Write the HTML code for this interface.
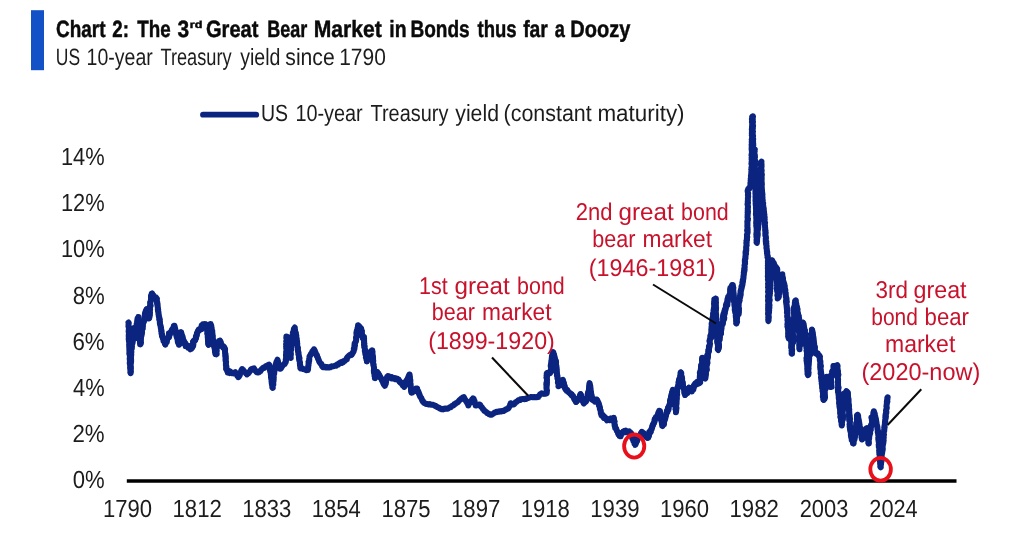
<!DOCTYPE html>
<html lang="en"><head><meta charset="utf-8"><title>Chart 2: The 3rd Great Bear Market in Bonds thus far a Doozy</title>
<style>
html,body{margin:0;padding:0;background:#fff;}
body{width:1024px;height:533px;overflow:hidden;}
svg{display:block;font-family:"Liberation Sans",sans-serif;}
</style></head><body>
<svg width="1024" height="533" viewBox="0 0 1024 533" text-rendering="geometricPrecision">
<rect width="1024" height="533" fill="#ffffff"/>
<rect x="31" y="10.2" width="13" height="60" fill="#1352c6"/>
<line x1="203" y1="114.7" x2="256.2" y2="114.7" stroke="#0b2480" stroke-width="5.8" stroke-linecap="round"/>
<line x1="126.8" y1="480.9" x2="956.5" y2="480.9" stroke="#000" stroke-width="3.5"/>
<g fill="none" stroke="#0b2480" stroke-width="6" stroke-linejoin="round" stroke-linecap="round">
<polyline stroke-width="5" points="129.5,350.0 129.5,350.2 129.5,351.5 129.6,351.9 129.4,353.3 129.9,352.9 129.8,354.0 129.8,354.2 129.5,356.2 129.7,356.4 129.9,358.2 130.1,358.3 129.7,359.5 129.6,358.8 130.0,359.7 129.3,357.9 129.4,359.6 129.5,359.1 129.6,360.9 129.7,362.1 130.0,365.3 130.6,366.2 130.1,366.8 130.1,365.8 130.2,366.7 130.3,366.5 130.1,368.1 130.2,368.1 130.3,370.5 130.5,371.2 130.6,372.9 130.2,372.6 130.5,373.4 130.8,372.1 130.8,372.1 130.5,371.1 130.5,371.5 130.9,369.5 130.9,369.5 130.8,367.4 130.5,367.9 130.6,366.6 131.1,366.6 130.6,364.7 130.9,363.8 130.3,361.1 130.5,362.8 131.0,361.2 131.4,362.9 131.4,361.7 131.5,362.2 131.6,360.9 131.5,360.8 131.0,358.1 131.2,358.0 131.1,356.6 131.2,357.0 131.6,355.6 131.4,355.4 131.3,353.9 131.2,353.7 131.7,351.8 131.5,351.1 131.5,349.7 131.6,349.9 131.6,349.1 131.9,349.2 131.5,348.0 132.1,347.9 131.8,346.3 131.7,346.0 131.7,344.1 131.7,343.8 131.9,341.5 131.7,341.8 131.7,339.1 132.1,340.9 132.2,341.0 132.7,342.5 132.5,340.1 132.5,340.0 132.3,336.8 132.6,338.2 132.8,336.4 133.1,337.5 133.0,335.7 133.3,336.3 133.3,334.5 133.2,334.5 133.0,332.7 133.3,332.8 133.5,331.4 133.1,331.2 133.2,330.0 133.6,329.4 133.3,327.9 133.4,328.7 133.8,329.4 133.6,331.4 134.0,331.8 134.2,333.1 133.9,332.2 134.1,333.3 134.3,333.6 135.0,336.2 134.9,336.8 134.8,337.9 134.7,337.2 135.2,338.2 135.3,338.0 135.3,337.3 134.9,334.7 135.2,334.9 135.0,332.5 135.6,333.2 135.5,331.6 135.7,331.9 136.0,330.4 136.2,331.6 136.5,330.9 136.3,330.8 136.7,329.7 137.0,329.0 136.7,327.1 137.0,327.6 137.1,326.2 137.1,326.6 137.0,324.3 137.4,324.4 137.3,322.0 137.2,322.6 137.8,321.5 137.7,321.7 137.9,320.1 137.8,320.0 138.0,318.3 138.0,318.6 137.9,317.3 138.1,316.9 138.5,317.3 138.2,318.6 138.4,319.0 138.7,320.6 138.6,320.7 138.6,321.9 138.8,322.3 138.8,324.5 139.3,325.2 139.3,326.7 139.4,325.7 139.1,327.3 139.3,326.8 139.4,329.3 139.7,329.4 139.5,331.2 139.2,330.3 139.5,332.0 139.5,331.8 139.3,333.4 139.3,333.3 139.6,334.2 139.5,333.8 139.7,334.7 139.7,334.8 139.3,335.6 139.3,335.2 139.6,337.6 139.8,337.8 140.3,340.9 140.5,340.9 140.7,343.2 140.6,342.7 140.6,344.3 140.6,343.5 140.5,344.4 140.1,344.3 140.2,343.8 140.3,342.5 140.7,342.6 140.7,341.3 140.8,341.8 141.0,339.6 140.6,339.4 140.8,336.5 140.9,337.9 141.3,337.3 141.3,338.4 141.7,336.5 141.5,336.0 141.4,334.2 141.5,333.7 141.3,332.2 141.4,331.8 141.5,330.6 141.8,330.2 142.1,329.4 142.0,329.1 142.0,328.3 142.5,329.4 142.9,328.6 143.2,329.0 143.1,328.0 143.3,326.4 143.2,323.2 143.2,322.0 143.1,321.8 143.8,322.9 143.8,322.2 144.0,321.5 144.1,320.0 143.9,319.2 144.0,317.9 144.0,317.4 144.6,315.3 144.8,315.5 144.9,313.5 145.1,314.2 145.1,313.4 145.8,314.4 145.7,313.3 145.7,313.6 145.9,312.0 146.4,311.7 146.3,309.9 146.6,310.5 146.6,308.8 146.8,311.0 147.5,311.8 147.6,313.9 148.1,313.7 148.2,314.1 148.0,312.9 148.5,315.0 148.8,315.9 149.3,318.2 149.1,317.9 149.4,317.5 149.6,315.9 149.7,316.3 149.5,315.4 149.6,316.2 150.2,315.2 150.1,315.2 149.9,313.8 150.0,313.3 149.8,310.9 150.0,310.2 150.0,309.2 150.2,310.9 150.5,309.5 150.4,309.1 150.2,306.2 149.9,305.1 150.3,303.8 149.9,303.7 150.1,302.0 150.2,302.5 150.3,301.7 150.7,301.8 150.9,299.7 150.6,299.3 150.5,296.7 150.9,297.0 151.1,295.5 151.1,296.1 151.4,295.0 151.4,295.4 151.4,294.2 152.0,294.4 152.1,293.4 152.2,294.7 152.8,294.2 152.6,294.7 152.6,294.0 153.4,295.7 153.7,295.5 154.1,297.6 154.7,296.8 156.1,299.6 156.9,298.8 156.9,299.8 157.1,299.4 156.6,300.6 156.8,301.3 157.4,303.6 157.6,304.4 157.4,306.6 157.6,305.9 157.7,307.8 157.8,306.4 157.4,307.0 157.5,306.4 157.5,308.1 157.9,307.8 158.2,309.6 157.9,309.9 158.0,311.0 158.3,311.1 158.3,313.0 158.4,312.8 158.9,315.0 158.7,314.6 159.1,315.8 158.8,315.6 159.1,317.1 158.9,317.1 159.5,318.5 159.7,318.3 159.8,319.6 159.4,320.1 159.7,321.3 159.7,321.9 159.9,323.7 160.1,323.3 160.2,324.5 160.0,323.9 160.5,325.6 160.7,324.7 160.4,326.4 160.9,326.5 161.0,329.4 161.2,329.3 160.9,329.8 161.2,328.7 161.3,330.1 161.4,329.8 161.6,331.8 161.5,331.9 161.6,333.8 162.0,334.4 162.0,335.8 162.2,336.2 162.7,337.3 163.0,337.0 162.8,338.5 163.1,337.9 163.6,340.5 163.5,339.1 163.5,339.8 163.5,338.7 164.1,341.4 164.1,341.5 164.5,343.7 165.1,343.8 165.2,345.1 165.7,344.3 165.5,343.8 165.6,341.2 166.1,340.7 166.1,339.5 166.6,340.7 167.1,339.8 167.2,340.1 167.6,338.9 168.0,338.4 168.5,336.8 168.7,335.9 168.5,333.1 168.8,334.5 169.6,333.9 170.1,334.8 170.2,332.9 170.5,333.2 170.8,331.7 171.4,331.8 171.5,330.9 172.3,331.1 172.2,328.9 172.8,328.8 173.1,326.8 173.2,327.6 173.6,326.4 173.9,326.8 174.1,325.7 174.4,327.1 174.4,327.4 175.0,328.3 175.0,327.0 174.5,327.6 174.7,326.6 174.7,328.3 174.9,328.0 175.6,331.3 175.7,331.8 176.0,334.4 176.4,334.6 176.4,336.2 176.7,336.1 176.8,336.5 176.5,336.5 176.6,336.8 177.3,337.0 177.4,338.5 177.2,338.4 177.9,341.2 178.1,340.5 178.3,342.3 178.3,341.8 178.2,343.1 178.5,342.7 178.8,344.1 179.0,344.6 179.5,344.4 179.5,342.7 179.2,342.9 179.3,341.2 179.5,341.3 179.5,339.3 179.6,340.2 179.9,338.4 180.1,339.5 180.5,337.7 180.2,337.7 180.0,335.4 180.5,335.4 180.2,333.6 180.5,334.3 180.7,332.9 180.9,333.1 181.0,332.0 181.4,333.5 181.3,333.1 181.4,333.6 181.5,331.9 181.7,334.3 181.9,335.1 182.5,337.5 182.4,337.7 182.8,339.2 183.1,339.1 183.2,340.4 183.5,339.8 183.7,340.9 183.8,340.9 184.1,341.8 184.1,340.8 184.5,343.7 185.3,344.3 185.3,346.5 185.6,346.0 186.1,346.5 186.3,345.3 187.2,346.1 188.1,345.5 189.0,347.2 189.9,346.1 190.1,347.4 191.4,346.7 191.7,347.9 192.2,347.1 192.8,347.6 192.6,345.2 192.8,344.8 192.5,341.7 192.8,342.6 193.1,340.7 193.7,341.9 193.7,340.6 194.2,340.7 194.5,339.7 195.1,339.7 195.2,339.0 195.6,340.4 195.6,337.7 196.1,337.4 196.3,334.9 196.8,335.8 196.6,334.7 197.2,335.1 197.4,333.1 197.6,333.0 198.1,330.1 198.5,330.5 198.6,329.5 198.9,330.0 199.6,329.0 200.2,329.1 200.5,328.6 201.0,329.2 201.7,328.3 202.4,329.3 202.6,327.2 203.2,326.7 203.7,325.2 204.2,325.0 204.5,323.8 205.2,324.7 206.1,323.9 207.0,325.6 207.2,325.7 207.0,327.2 207.0,327.4 207.3,329.1 207.4,328.6 207.1,330.2 207.1,329.4 207.5,331.6 207.7,332.2 207.6,335.1 208.1,334.8 208.0,337.0 208.0,336.3 207.9,337.3 207.5,335.8 207.7,336.3 207.5,335.7 207.9,338.1 208.1,337.7 208.2,340.2 207.9,340.7 208.5,342.9 208.3,342.6 208.2,343.8 208.4,343.7 208.1,344.9 208.3,345.1 208.3,345.0 208.4,343.7 208.6,343.0 208.2,341.3 208.3,341.1 208.3,339.3 208.4,339.2 208.7,337.3 208.5,337.6 208.5,336.4 209.1,337.3 209.4,336.6 209.3,337.7 209.4,335.3 209.1,334.7 208.7,332.3 209.3,332.8 209.2,330.8 208.9,331.5 209.4,330.2 209.3,330.4 209.3,328.9 209.2,328.8 209.4,327.7 209.7,327.6 210.1,325.6 210.4,326.0 210.7,324.6 210.9,324.8 211.0,325.6 211.0,327.2 211.1,326.6 211.2,327.6 211.4,326.1 211.1,327.2 211.2,326.7 211.4,328.1 211.4,329.0 212.1,332.8 212.6,334.2 212.5,335.9 212.6,335.4 212.4,336.9 212.9,336.7 212.5,337.9 213.0,338.0 212.8,338.9 212.8,338.0 212.9,338.5 212.8,339.2 212.8,340.4 213.2,341.4 213.7,342.6 213.8,343.1 214.0,344.7 213.9,343.9 213.6,344.5 213.9,343.1 213.8,345.6 214.0,346.2 214.6,348.9 214.8,348.7 214.6,350.1 215.0,350.4 215.2,351.4 215.3,350.9 215.4,352.3 215.4,351.9 215.3,352.9 215.7,353.1 215.5,354.2 215.9,352.6 215.9,352.0 216.3,350.7 216.1,351.2 216.1,348.9 216.5,349.0 216.9,347.3 216.5,347.5 216.7,345.8 217.4,346.2 217.2,345.3 217.5,344.9 217.8,343.9 218.1,345.0 218.2,342.2 218.3,342.9 218.6,340.8 219.3,341.4 219.6,340.5 220.0,342.2 220.3,341.5 220.6,341.6 220.2,340.0 221.4,343.4 221.8,344.3 221.9,345.7 222.6,346.4 222.9,348.0 223.3,347.1 223.8,349.1 224.4,348.7 225.0,350.0 224.7,349.4 224.8,350.7 225.2,351.2 225.1,352.9 225.2,353.3 225.5,354.9 225.7,354.2 225.3,355.6 225.1,354.5 225.4,355.5 225.2,354.6 224.9,355.3 225.1,356.5 225.6,359.0 225.4,359.5 225.6,360.2 225.6,360.1 225.3,360.7 225.6,360.4 225.8,362.0 225.8,361.7 225.9,364.8 225.7,364.4 226.3,366.7 226.1,366.1 225.9,367.9 226.3,367.6 225.9,368.6 226.6,368.7 226.7,370.0 227.6,370.7 227.5,372.9 227.9,372.4 229.5,373.6 229.6,371.1 230.2,371.8 231.2,371.9 231.7,372.5 232.0,373.0"/>
<polyline stroke-width="5" points="700.0,380.6 700.3,380.1 700.5,380.9 700.6,379.6 700.6,380.5 700.8,378.5 701.1,379.3 701.0,377.8 701.1,378.1 701.3,376.5 701.3,376.5 701.2,374.0 701.1,373.8 701.2,372.2 701.2,372.1 701.1,370.5 701.4,369.9 701.1,367.7 701.1,366.3 701.0,364.5 701.3,366.0 701.2,364.4 701.7,366.6 702.0,365.4 702.5,367.4 702.3,364.8 701.9,364.1 702.1,361.7 702.3,362.2 701.9,360.6 702.1,360.3 702.0,358.4 702.1,358.8 701.9,357.7 702.2,359.7 702.5,359.9 702.9,362.0 702.6,361.5 702.6,362.6 702.9,362.0 702.6,364.8 702.9,364.9 703.2,367.2 703.7,367.0 703.5,368.4 703.7,368.7 703.5,369.4 703.6,367.7 703.7,368.6 703.5,367.7 703.4,370.1 704.0,370.0 703.9,372.6 704.5,372.1 704.4,374.1 704.7,374.8 705.0,377.9 705.5,378.0 705.1,378.8 705.4,377.7 705.4,377.9 705.5,375.6 705.4,374.5 705.3,371.7 705.4,373.6 706.1,373.2 706.4,374.7 706.4,371.0 705.7,370.2 705.5,366.4 705.9,368.7 706.3,367.6 706.6,369.2 706.3,366.3 706.4,366.0 706.5,364.5 706.8,364.4 706.7,362.7 706.8,361.9 706.8,361.5 707.5,363.4 707.7,363.4 707.7,362.3 707.3,358.7 707.1,357.9 707.4,355.9 707.2,356.9 707.1,354.7 708.0,356.6 708.3,356.4 708.4,358.0 708.5,355.6 708.1,355.5 708.3,353.7 708.2,352.6 708.4,351.0 708.1,350.2 708.8,349.5 709.0,350.8 709.5,350.4 709.6,350.9 709.0,347.4 709.0,347.6 709.6,345.4 709.3,346.5 709.9,345.1 709.6,344.3 709.3,341.5 709.2,341.0 709.7,341.1 709.7,341.6 710.1,340.5 709.9,340.4 710.2,339.1 710.4,339.2 710.5,338.3 710.9,338.6 711.1,337.8 711.4,338.4 711.4,336.6 711.4,336.8 711.4,333.6 710.9,332.7 710.8,329.2 710.8,330.5 711.3,328.7 711.4,328.9 711.1,326.7 711.2,327.3 711.4,325.0 711.7,325.0 711.8,324.1 711.6,324.4 712.1,322.9 711.9,323.1 712.4,321.8 712.3,322.1 712.4,320.8 712.5,320.7 712.6,319.4 712.6,320.4 713.1,318.6 712.9,318.4 712.7,314.5 712.5,314.0 712.8,313.6 713.0,315.2 713.4,314.6 713.6,314.9 713.3,312.2 713.8,312.0 713.7,310.5 713.6,310.4 713.8,309.5 714.0,309.7 714.1,308.9 714.4,309.6 714.5,307.9 714.6,307.2 714.8,305.0 714.8,305.3 714.7,302.6 714.9,302.6 714.9,301.4 715.0,302.5 714.9,300.9 715.0,301.2 715.1,300.1 715.7,300.0 715.4,298.3 715.4,299.0 715.6,298.6 715.4,300.6 716.0,301.5 715.9,304.7 715.5,303.3 715.7,303.2 715.0,301.2 715.8,304.2 715.7,305.4 715.8,308.9 716.2,307.9 716.0,310.3 716.1,310.3 715.7,310.2 715.6,308.0 715.0,307.5 715.9,309.4 716.1,313.0 716.5,314.6 716.2,314.9 716.1,313.2 716.0,315.1 715.9,315.0 716.2,317.1 716.3,317.1 716.2,317.9 716.2,316.5 715.8,317.5 715.8,317.4 715.9,318.8 716.3,319.0 716.1,320.8 716.0,321.5 716.1,322.9 716.5,324.0 716.2,325.6 716.3,326.6 716.5,327.2 716.4,326.7 716.4,327.2 716.7,327.5 716.9,330.2 717.1,330.8 717.3,333.0 717.5,332.8 717.5,335.1 717.7,335.1 717.3,336.7 717.4,336.8 717.5,337.2 716.9,335.1 717.0,335.6 716.7,335.7 717.0,337.9 717.4,336.7 717.1,339.3 717.3,339.2 717.2,341.6 717.8,341.3 717.5,344.0 717.7,343.7 717.6,344.8 717.7,343.1 717.3,343.8 717.6,344.5 717.8,347.1 718.2,347.7 718.3,349.1 717.7,349.0 717.9,350.1 718.3,350.5 718.2,350.4 718.6,349.5 718.2,348.5 718.0,345.7 717.9,344.6 718.2,344.3 718.7,347.0 719.6,346.3 719.2,345.3 718.6,340.9 718.5,339.5 718.5,338.8 719.0,340.1 719.0,338.1 719.2,339.6 719.8,338.0 719.9,338.8 719.6,337.6 720.0,337.7 719.9,336.6 719.7,335.5 720.1,334.1 720.4,333.4 720.8,332.5 721.1,334.1 721.3,333.4 721.5,333.3 721.4,330.5 721.3,330.3 721.1,328.3 721.3,328.2 721.6,325.2 721.5,326.6 721.6,324.1 721.7,325.1 722.2,322.7 722.5,323.4 722.6,321.8 722.7,321.9 722.9,321.0 722.8,320.6 723.0,318.8 722.7,318.5 722.9,316.6 723.6,318.3 723.8,317.2 723.9,319.1 724.4,317.4 724.6,319.4 724.8,317.8 724.5,316.4 724.7,312.6 724.3,311.4 724.3,309.7 724.6,310.0 725.0,308.3 725.1,309.6 725.3,309.0 725.5,309.9 726.0,308.2 725.9,307.9 726.0,305.8 726.4,305.8 726.4,303.7 726.8,304.3 727.0,302.0 727.0,302.2 727.4,299.6 727.7,301.1 728.1,300.0 728.3,301.1 728.5,299.7 728.5,299.5 728.6,298.5 729.1,297.5 729.4,296.1 729.6,295.9 729.8,293.9 730.1,294.4 730.3,292.7 729.8,291.7 729.9,289.2 730.1,289.1 730.9,289.2 731.4,291.6 731.9,291.7 731.9,289.8 731.8,286.3 732.1,285.7 731.9,284.7 732.7,285.5 732.6,284.8 732.8,286.3 733.2,286.8 733.0,288.7 733.2,287.7 733.0,288.3 732.7,286.6 733.1,289.3 733.3,290.5 733.7,293.2 733.7,293.9 734.0,296.6 734.2,296.1 734.3,297.1 733.9,295.7 733.6,297.6 733.9,297.5 734.0,299.4 734.2,299.1 733.8,299.4 734.1,297.7 733.7,298.0 733.7,298.4 734.2,301.1 733.9,301.5 734.4,302.6 734.4,302.3 734.5,303.7 734.2,304.7 734.8,306.2 735.0,307.0 735.1,308.0 735.1,307.1 735.0,307.8 735.0,307.9 735.2,310.3 734.9,309.8 735.2,312.9 735.6,313.4 735.8,316.7 736.0,316.4 736.0,318.1 736.3,316.9 735.9,319.3 736.6,318.5 736.2,320.5 736.5,318.6 735.8,319.5 736.0,318.5 736.2,320.0 736.3,320.2 736.3,321.8 736.5,322.0 736.2,323.3 736.4,323.6 736.6,323.2 737.0,321.9 736.8,321.3 736.8,319.7 736.6,319.6 737.0,317.9 737.1,317.9 737.1,316.3 737.4,316.6 737.2,314.9 737.1,314.3 736.8,312.0 737.3,313.0 737.7,311.4 737.7,312.7 738.3,311.4 738.7,313.9 738.6,313.0 738.6,313.9 739.1,311.7 738.9,312.6 738.8,309.3 739.1,308.9 738.7,306.5 738.9,306.5 738.9,304.9 738.7,304.6 738.8,302.6 738.9,302.7 739.3,301.1 739.1,301.1 739.4,299.8 739.6,299.4 739.4,298.2 739.6,298.2 739.6,297.0 739.7,297.5 740.2,296.8 740.1,297.7 740.6,295.9 740.5,296.8 740.7,295.1 741.0,294.9 740.7,291.6 740.9,291.7"/>
<polyline stroke-width="5" points="771.0,273.8 770.9,271.9 770.7,272.1 770.8,270.4 770.7,270.3 770.9,268.1 771.1,268.1 771.4,268.0 771.4,269.5 771.7,269.1 771.5,267.4 771.5,264.8 771.0,263.9 771.4,263.3 771.6,263.9 771.6,263.2 771.6,263.0 771.8,262.3 772.0,261.9 772.0,262.0 772.3,261.9 772.4,260.0 773.4,262.8 773.9,263.4 774.4,265.1 775.1,265.6 775.7,267.0 775.8,267.3 776.6,267.5 776.8,267.4 777.0,267.8 776.9,268.2 777.1,269.4 776.9,270.0 777.2,271.8 777.2,272.2 777.1,274.5 777.4,274.2 777.4,274.9 777.0,274.4 777.3,276.6 777.4,277.1 777.6,279.3 777.3,277.8 776.8,278.1 776.5,276.7 776.8,279.0 776.7,278.9 777.2,280.7 777.0,280.8 777.0,281.9 777.4,282.1 777.5,284.0 777.1,284.8 777.2,285.8 777.2,286.7 777.4,288.7 777.7,289.7 778.0,290.5 777.9,290.1 777.7,290.9 777.8,291.1 777.6,293.4 778.0,293.6 777.9,294.4 777.5,293.3 777.6,294.2 777.7,294.8 777.7,296.6 777.7,297.1 777.8,297.5 777.7,297.7 777.8,296.6 777.9,295.4 777.9,295.4 778.1,294.3 778.1,294.7 778.2,293.5 778.9,294.9 778.7,293.6 779.3,293.7 779.2,292.2 779.3,291.7 779.3,289.7 779.5,289.2 779.1,287.1 779.5,286.7 779.5,285.0 779.9,285.4 780.0,284.8 780.2,284.7 780.0,283.5 780.3,282.9 779.9,281.4 780.5,281.4 780.4,279.9 780.7,280.2 780.8,279.4 781.1,280.5 781.7,280.4 781.2,279.3 781.1,276.3 781.6,275.6 781.6,275.6 782.0,276.0 782.1,275.1 782.4,276.8 782.8,277.6 782.8,279.5 782.7,277.3 782.8,277.4 782.2,275.8 782.7,278.3 783.3,279.2 783.4,280.9 783.8,281.4 783.7,282.7 783.8,282.6 783.6,283.2 783.7,282.3 783.6,282.7 784.0,283.2 784.6,286.1 784.5,286.7 784.8,288.9 785.3,289.8 785.1,291.2 785.1,290.6 785.1,291.2 785.4,290.7 785.1,292.3 785.3,292.7 785.8,294.8 785.6,294.2 785.4,294.8 785.2,293.7 785.5,295.9 786.1,296.7 786.2,299.4 786.0,299.6 786.7,302.2 786.7,302.3 786.8,302.5 786.1,301.1 785.8,301.1 785.8,301.2 786.1,301.9 786.2,301.9 786.5,303.6 786.6,304.3 786.8,305.8 786.8,306.7 787.2,308.1 787.2,309.0 786.8,309.5 786.7,309.4 786.8,310.0 786.8,310.2 787.1,311.3 786.8,311.3 786.9,312.9 787.3,313.6 787.5,315.8 787.8,316.2 787.7,318.5 787.9,319.5 787.9,320.0 787.4,319.2 787.3,319.8 787.6,319.3 787.4,321.1 787.5,320.7 787.5,323.1 787.8,323.1 787.8,325.2 787.8,323.9 787.7,324.3 787.5,323.0 787.4,325.9 787.6,326.7 788.3,328.8 787.9,328.2 788.2,329.2 787.7,328.2 788.2,330.5 788.1,331.4 788.1,333.0 788.1,333.6 788.5,335.1 788.8,335.6 788.4,335.9 788.6,335.4 788.6,335.9 788.6,336.8 788.3,336.5 788.6,336.0 788.7,336.0 788.9,334.7 788.9,334.5 789.0,332.4 788.7,331.6 788.8,329.2 789.0,329.1 789.0,327.8 789.3,328.3 789.7,328.2 790.1,330.1 790.5,329.5 790.7,328.9 790.2,327.6 790.3,326.8 790.3,324.6 790.3,323.6 790.5,323.3 790.7,324.7 790.4,325.4 790.8,327.3 790.5,327.9 790.8,329.3 790.9,329.8 790.7,330.4 790.6,329.4 790.5,329.5 790.4,330.1 791.0,332.2 790.8,333.1 790.8,333.4 790.8,332.0 790.4,332.6 790.8,332.6 790.5,334.9 790.6,335.9 791.2,338.2 791.2,338.1 791.4,340.7 791.3,339.9 791.2,341.4 791.1,341.0 791.6,343.4 791.7,343.5 791.5,345.1 791.6,344.0 791.1,344.1 791.1,343.0 790.9,344.6 791.1,345.2 791.1,347.2 791.5,347.8 791.6,350.0 791.6,350.4 791.6,351.4 791.8,351.2 791.8,352.1 791.5,352.2 791.8,353.2 791.6,353.5 791.6,352.9 791.6,351.8 791.7,351.6 791.7,350.9 791.9,351.4 792.4,350.8 792.3,350.4 791.9,348.8 792.0,348.0 792.2,346.1 791.8,344.9 791.7,342.7 791.9,343.6 792.0,343.5 792.5,345.4 792.4,342.7 792.6,341.8 792.3,339.3 792.5,339.8 792.5,338.4 792.3,339.1 792.5,337.1 792.5,336.9 792.0,334.6 792.5,335.0 792.6,333.8 792.6,334.9 792.9,332.7 792.9,332.7 793.0,331.2 792.5,330.7 792.7,328.8 792.5,328.6 792.8,328.1 792.8,329.4 793.0,328.9 793.3,327.7 793.2,325.6 792.9,325.0 793.0,324.8 793.5,325.5 793.6,324.9 793.1,323.9 793.6,322.0 793.4,321.0 793.7,320.7 793.2,320.9 793.6,320.3 793.7,320.2 793.8,319.2 794.1,319.1 794.1,317.6 794.1,317.3 793.9,315.3 793.9,315.8 794.4,314.6 794.1,315.3 794.4,312.6 794.0,312.2 794.2,309.1 794.1,310.4 794.7,310.3 795.2,311.0 794.6,308.7 794.6,308.5 794.8,306.4 794.5,306.1 795.0,304.1 794.6,303.9 795.1,304.0 795.6,304.7 795.8,303.9 795.6,302.9 795.5,301.3 795.2,300.5 795.9,300.9 796.0,301.8 795.7,301.8 796.4,304.3 796.3,304.9 796.7,307.9 796.8,306.2 796.8,306.9 797.1,306.5 797.0,308.1 797.2,308.7 797.3,310.6 797.4,309.6 797.5,310.7 797.6,309.4 797.5,312.3 798.2,313.6 798.5,316.3 798.2,315.1 798.4,315.5 798.7,314.9 798.8,316.3 798.9,316.9 798.7,317.6 799.1,318.4 799.2,320.5 799.2,321.6 799.3,322.1 798.7,321.2 798.8,321.7 798.9,322.6 799.2,325.2 799.6,326.5 799.5,328.3 799.2,328.0 799.7,329.8 799.2,329.1 799.1,329.8 799.2,329.0 799.2,329.6 798.9,328.0 798.2,328.3 798.3,328.2 798.4,330.1 798.5,330.2 798.5,332.1 798.7,331.8 798.8,333.9 799.0,333.8 799.1,336.3 799.0,336.4 798.9,338.3 799.0,338.7 799.3,340.5 799.3,341.1 799.8,343.1 799.8,343.3 799.6,344.1 799.5,342.8 799.3,343.7 799.2,343.5 799.3,344.3 799.2,344.5 799.1,346.2 799.2,346.9 799.6,348.2 799.4,348.5 799.3,347.6 799.5,346.0 799.6,345.5 799.3,343.9 799.6,343.8 799.7,342.7 799.7,343.6 799.9,342.7 800.3,343.2 800.3,342.2 800.1,342.3 800.0,339.5 799.8,338.7 799.4,335.2 799.8,336.3 800.2,335.7 800.4,336.4 800.6,335.8 800.5,335.9 800.8,334.8 800.6,334.7 800.8,333.6 801.1,333.4 801.2,331.5 801.2,330.8 801.0,329.8 801.2,329.7 801.6,328.9 801.8,330.2 802.1,327.3 801.6,326.1 801.8,323.3 802.3,324.6 802.6,324.1 802.8,324.4 803.1,323.2 802.7,322.4 803.1,323.0 803.3,324.6 803.6,325.3 804.0,327.5 803.9,326.3 803.8,327.5 804.2,326.2 804.1,327.0 804.3,326.4 804.1,327.2 804.0,327.6 804.6,329.3 804.7,329.9 805.0,331.6 804.9,332.3 804.9,333.6 805.4,333.3 805.3,334.3 805.1,333.6 805.3,335.7 805.8,336.2 805.8,338.9 805.8,337.4 805.8,338.5 805.6,336.7 805.8,340.2 806.0,341.0 806.2,343.9 806.5,342.8 806.2,343.5 806.1,343.3 806.5,344.5 806.4,344.8 806.5,345.4 806.3,345.8 806.6,346.9 806.5,347.3 806.8,348.8 806.8,349.3 806.9,350.8 806.9,351.1 806.6,352.6 807.0,352.9 807.0,353.9 806.6,353.8 806.8,354.6 806.6,354.3 806.9,355.3 806.7,354.4 806.7,357.2 807.1,357.2 807.4,359.4 807.3,360.4 807.6,363.4 807.7,363.9 807.8,364.7 807.4,363.7 807.4,364.3 807.8,364.8 807.8,367.4 808.0,367.7 807.3,367.7 807.3,365.8 807.1,366.0 807.2,367.3 807.5,370.5 808.2,372.0 808.0,372.9 807.8,372.8 808.2,373.6 808.2,373.5 808.1,374.2 807.6,374.3 807.9,375.1 807.7,375.6 807.7,375.3 808.0,374.2 808.0,373.8 808.2,372.7 808.4,373.1 808.7,372.3 808.4,372.6 808.6,370.2 808.1,369.0 808.3,366.1 808.4,367.1 808.7,366.5 808.7,367.5 808.7,365.9 809.1,365.8 809.0,363.8 809.0,363.6 808.7,361.3 808.5,361.3 808.9,360.8 809.3,361.6 809.3,360.7 809.6,361.3 809.2,359.2 809.6,359.5 809.7,356.8 809.5,356.0 808.9,353.3 809.3,354.5 809.7,353.9 809.6,354.6 809.9,353.1 810.0,352.5 809.8,351.2 809.7,350.8 810.0,349.8 810.2,349.4 810.0,348.4 810.0,348.5 810.5,347.3 810.1,346.7 810.2,344.3 810.0,343.1 810.4,342.7 810.8,343.7 811.1,343.0 811.0,342.6 810.6,340.9 810.9,340.7 811.0,339.8 811.2,341.3 811.9,340.4 811.4,339.7 811.2,336.2 811.3,335.5 811.5,335.0 811.6,336.1 812.0,335.4 811.7,335.3 811.8,333.8 811.8,333.5 811.9,331.8 811.8,331.5 812.1,330.1 812.1,329.8 812.0,330.6 812.6,332.2 812.5,331.5 812.2,331.5 812.0,329.8 812.3,332.5 812.3,333.3 812.9,336.4 813.3,335.7 813.1,337.7 813.3,337.2 813.3,338.9 813.4,338.9 813.3,339.8 813.4,340.0 813.9,340.8 813.9,340.8 813.8,341.7 813.7,341.1 813.8,342.0 813.4,341.5 814.0,343.7 813.8,343.5 814.4,346.2 814.5,346.6 814.7,348.9 814.5,348.2 814.5,348.9 814.8,348.1 814.7,349.5 814.9,349.9 815.1,351.1 815.4,352.0 815.3,353.5 816.0,353.5 817.0,354.4 817.2,354.2 818.4,356.0 818.9,355.4 819.5,356.4 819.9,356.9 819.7,357.5 819.8,357.4 819.9,358.0 819.9,358.7 819.8,360.9 820.3,362.3 820.4,363.3 820.2,362.2 820.4,362.8 820.0,363.9 820.7,366.2 820.9,366.6 820.3,367.0 820.2,365.1 819.9,365.2 820.6,366.9 821.0,370.5 821.5,372.3 821.3,373.2 821.2,372.2 821.1,373.2 820.9,373.6 821.2,375.5 821.2,376.1 821.2,377.6 821.2,377.5 821.5,378.6 821.6,378.4 821.5,379.2 821.2,379.2 821.4,379.5 821.5,379.6 821.6,379.9 821.7,380.3 821.5,381.5 821.9,382.0 822.0,383.3 821.6,382.8 821.8,384.1 821.9,384.8 822.0,387.6 822.3,388.3 822.6,388.6 822.1,387.3 821.8,387.8 822.4,387.7 822.3,389.3 822.2,389.2 822.6,390.4 822.4,390.3 822.2,391.6 822.8,391.8 822.6,393.6 822.5,393.5 823.3,396.4 823.2,397.5 823.6,399.4 823.2,399.6 823.7,400.4 823.7,400.5 823.5,400.0 823.7,398.5 823.6,397.5 823.7,396.8 824.2,397.3 824.0,396.5 824.6,396.5 824.5,393.9 824.1,394.0 824.3,392.4 824.5,392.9 824.8,390.9 824.6,391.1 824.6,389.1 825.0,389.2 825.0,388.0 825.1,388.2 825.4,387.3 825.0,386.6 825.3,385.1 825.7,384.7 825.4,383.4 825.4,382.8 825.5,381.5 825.9,381.5 826.2,380.4 826.1,381.3 826.3,378.8 826.1,378.9 826.2,376.7 826.7,377.4 826.6,376.7 827.1,376.6 827.1,377.5 827.7,379.5 828.3,380.6 827.9,380.4 828.2,378.4 828.3,378.6 828.8,379.4 828.9,381.4 828.7,381.0 829.3,382.9 829.7,383.7 830.4,387.0 829.7,385.5 830.2,385.3 830.4,384.9 830.2,386.9 830.3,385.7 830.5,385.3 830.4,384.9 831.3,385.5 831.3,385.5 831.3,385.2 831.6,383.1 831.6,382.9 831.1,380.4 831.0,379.5 830.9,377.2 831.4,377.2 831.5,375.5 831.7,375.7 831.7,374.9 832.1,375.2 832.1,374.5 832.2,374.0 831.9,372.4 832.1,372.4 832.6,371.8 832.8,372.8 833.1,372.2 833.4,372.8 833.5,371.3 833.8,372.0 833.9,369.6 833.8,369.2 833.7,367.2 833.9,366.9 833.4,365.6 834.6,367.5 835.8,367.3 836.6,368.5 836.9,367.4 837.2,366.5 837.2,367.1 837.4,368.3 837.4,369.0 837.8,370.3 838.0,370.9 838.2,372.5 838.2,372.7 837.8,374.5 837.8,372.9 837.8,372.5 837.0,370.4 837.5,372.4 837.3,372.8 837.7,375.2 837.4,374.4 837.5,376.0 837.8,375.8 837.8,378.3 838.1,378.7 838.1,380.8 837.9,380.9 838.0,381.7 838.3,382.0 838.2,382.9 838.4,383.0 838.2,384.1 838.4,385.0 838.2,386.4 838.7,387.1 838.8,388.2 838.2,387.7 838.6,388.3 838.3,387.9 838.1,389.1 838.1,388.4 838.0,390.1 838.2,390.3 838.4,392.4 838.2,392.4 838.7,394.1 838.6,394.3 839.1,396.4 839.2,396.7 839.1,398.2 839.2,398.3 839.0,399.3 839.2,399.6 839.0,400.6 839.4,400.8 839.4,401.7 839.4,401.6 839.2,402.6 838.9,401.8 839.0,403.3 839.1,403.9 839.3,405.9 839.3,405.4 839.3,406.5 839.7,406.2 839.7,407.8 839.3,407.3 839.5,408.8 840.0,409.4 840.0,411.2 840.2,412.3 840.5,412.7 840.5,412.8 840.4,413.7 840.5,414.7 840.5,416.1 840.6,417.1 841.0,418.3 841.3,418.5 840.9,420.3 841.0,419.1 840.9,419.7 840.6,418.1 840.9,420.7 841.3,421.9 841.5,424.3 841.8,423.7 841.7,424.8 841.6,425.0 841.5,424.5 841.6,423.5 841.6,423.5 842.0,422.1 841.9,422.5 842.2,421.1 842.2,421.5 842.5,420.6 842.4,420.9 842.6,419.8 842.6,419.9 843.0,418.5 843.0,418.8 843.1,416.3 842.8,416.2 842.5,413.8 842.4,412.6 842.4,410.3 842.3,411.1 842.5,410.4 843.1,410.6 843.0,409.3 842.9,408.7 842.8,407.6 843.0,406.9 843.3,405.2 843.2,404.4 842.9,403.8 843.0,404.4 843.6,403.5 843.2,403.7 843.3,402.1 843.6,402.0 844.0,401.1 844.3,402.5 844.4,401.6 844.1,400.1 843.8,397.6 843.7,397.1 844.2,396.3 844.1,397.0 844.6,396.2 844.4,395.5 844.3,394.0 844.1,393.3 845.3,392.2 845.5,392.2 846.2,390.5 847.4,392.8 847.7,393.2 847.9,394.7 848.4,394.8 848.2,395.6 848.1,395.0 848.3,396.7 848.2,397.0 848.1,399.2 848.5,398.1 848.1,398.4 847.9,397.6 847.7,398.8 848.2,398.4 847.8,400.2 848.5,401.9 849.1,405.6 849.1,406.7 849.1,406.9 848.9,405.3 848.8,405.6 848.5,406.1 848.8,407.7 849.1,408.4 849.1,409.6 848.7,409.7 849.0,410.7 848.9,410.5 848.7,411.4 848.7,411.5 848.8,413.6 849.1,415.0 849.8,417.8 849.9,418.2 849.6,420.1 850.0,420.3 850.2,421.1 849.7,420.2 849.6,421.2 849.4,420.7 849.6,421.4 849.3,421.3 849.8,423.2 850.0,424.0 850.2,425.8 849.8,425.4 850.0,426.0 849.5,426.2 849.7,427.0 850.2,426.7 849.9,427.1 849.9,428.1 850.3,430.6 850.6,431.4 850.4,432.6 850.6,431.3 850.4,432.4 850.6,432.0 850.5,433.7 850.9,433.6 850.9,435.4 851.0,435.5 851.5,437.0 851.2,437.7 851.9,438.6 851.6,438.3 852.3,439.2 852.4,438.6 852.0,439.8 852.7,441.0 852.9,443.0 853.1,443.4 853.7,443.4 853.3,442.7 853.7,442.9 853.6,441.4 853.7,441.2 854.1,439.3 853.9,438.1 854.0,435.6 853.6,434.5 853.8,434.4 854.6,436.1 854.8,436.0 854.6,434.8 854.1,431.7 854.6,430.9 854.5,430.4 854.7,430.9 854.9,430.4 855.3,430.9 855.5,429.8 855.2,429.7 855.5,428.3 855.4,428.1 855.9,426.9 856.2,427.3 856.0,426.2 856.3,426.8 856.6,425.1 856.6,425.2 856.7,423.8 856.6,422.6 856.8,419.8 856.3,419.3 856.8,417.7 856.5,417.5 856.8,415.7 857.1,416.8 857.4,415.8 857.2,416.1 857.6,415.2 857.7,414.9 857.9,415.6 858.2,416.3 858.0,415.9 857.8,416.6 857.9,416.4 858.1,417.9 858.4,418.0 858.9,420.7 858.8,421.3 859.3,424.0 859.2,422.5 859.1,423.5 858.9,422.6 859.4,424.6 859.5,425.1 859.8,426.8 859.8,426.6 860.1,427.7 860.2,427.9 860.2,429.4 860.5,430.1 860.5,432.0 860.6,430.8 860.7,431.0 860.3,429.0 860.2,430.4 860.7,430.7 860.5,432.8 861.1,433.5 861.7,436.2 861.5,437.4 861.7,438.5 862.2,438.2 861.8,439.2 861.8,438.7 862.4,439.5 862.3,437.6 862.5,436.8 862.6,435.4 862.4,435.5 863.2,433.4 863.1,434.1 863.6,433.1 864.1,434.1 864.0,433.4 864.4,433.2 865.1,432.7 865.5,434.0 865.8,433.3 865.9,431.4 866.5,429.0 867.0,428.5 867.0,428.9 866.8,429.8 866.8,429.8 867.0,431.5 867.2,432.4 867.3,434.8 867.2,434.4 867.7,435.2 867.3,434.5 867.7,436.7 868.0,437.4 868.2,440.5 868.6,440.3 868.3,441.7 868.5,441.7 868.8,443.0 868.2,442.6 868.2,443.5 868.6,443.3 868.6,444.0 868.7,443.0 869.0,442.5 868.7,441.2 868.6,440.8 868.8,438.7 868.7,438.1 869.0,436.0 869.1,436.9 869.2,436.8 869.7,438.5 869.7,436.1 869.5,436.0 869.6,433.4 869.6,433.8 870.0,432.2 869.9,432.2 870.2,431.1 870.1,431.5 870.5,430.4 870.4,430.7 871.0,429.9 871.2,429.8 870.8,428.1 871.1,427.2 871.1,426.0 871.1,425.8 871.5,425.2 871.7,425.6 871.7,424.7 872.3,425.2 872.5,423.7 872.0,422.2 871.9,419.1 871.5,417.7 872.0,416.6 872.3,417.2 872.6,416.3 873.0,417.6 873.0,416.8 873.2,417.8 873.5,415.8 873.6,415.5 873.4,413.9 873.8,413.8 873.9,412.5 874.1,412.0 873.8,412.2 873.9,412.7 874.1,411.7 874.3,413.3 874.4,413.5 874.6,416.2 875.0,416.6 875.4,419.0 875.9,419.6 876.0,420.0 875.7,419.4 875.9,420.1 875.8,420.4 875.8,421.3 876.2,421.8 876.2,423.5 876.5,424.2 877.0,426.5 876.9,424.9 876.4,425.4 876.2,423.4 876.3,424.8 876.5,424.2 877.0,425.5 877.1,427.2 877.4,430.0 878.1,431.4 877.7,432.4 877.8,431.8 878.1,432.6 878.3,432.5 878.2,433.2 878.1,433.2 878.2,434.8 878.2,435.8 878.5,437.9 878.9,437.2 878.6,438.0 878.5,437.1 878.4,437.8 878.2,437.4 878.4,438.5 878.2,439.1 878.6,441.1 878.4,440.8 878.8,442.2 879.0,444.1"/>
<polyline stroke-width="5" points="600.1,409.1 599.9,407.9 600.0,409.4 600.6,409.3 600.9,411.3 601.1,411.6 601.2,413.6 601.2,413.7 601.2,414.8 601.8,415.1 602.0,415.4 602.8,414.3 603.5,415.6 604.3,415.9 604.9,417.5 606.0,417.4 606.8,419.3 607.5,419.2 608.2,419.5 609.2,419.6 609.5,420.3 610.5,419.1 611.1,419.0 611.7,419.0 612.8,419.2 613.3,417.8 613.9,417.6 614.0,417.6 614.1,418.7 614.1,419.2 614.4,421.1 614.2,420.5 613.9,421.5 614.3,421.3 614.6,422.9 614.2,422.8 614.7,424.2 614.4,424.3 615.0,425.7 615.0,426.5 615.4,427.1 615.4,427.0 616.1,428.3 616.2,429.1 617.1,431.6 617.2,431.8 617.7,432.4 618.2,433.2 618.4,434.9 618.9,434.4 619.1,436.3 619.5,435.8 620.0,436.6 620.3,436.4 621.0,436.6 621.1,434.9 621.5,434.5 621.9,432.7 622.3,432.9 622.9,431.2 623.9,431.6 624.4,430.5 624.9,430.8 625.8,430.6 626.5,432.4 627.5,431.4 628.0,431.8 629.2,432.4 630.0,433.5 630.3,432.8 631.1,434.1 631.6,434.7 631.7,436.3 631.8,435.6 631.8,436.3 631.7,434.9 632.2,437.1 632.4,438.1 633.3,439.3 633.5,439.6 633.9,441.1 634.0,441.3 634.3,443.1 634.6,442.0 634.5,443.7 635.1,443.4 635.4,444.7 635.4,443.1 635.7,443.1 636.3,441.7 636.3,442.1 636.5,440.1 637.1,440.2 637.0,437.9 637.7,439.0 637.9,438.7 638.1,438.7 638.6,437.3 638.9,437.5 639.5,436.6 639.5,436.8 640.4,434.4 640.5,434.5 640.5,433.0 640.9,433.0 641.7,431.5 641.7,431.7 642.4,432.1 643.0,434.6 643.8,433.7 644.4,434.5 644.5,434.0 644.8,434.7 645.6,435.5 646.1,437.4 646.9,436.5 647.6,438.1 648.1,437.1 648.6,437.6 648.7,436.4 649.1,436.1 649.2,434.7 649.6,434.6 649.4,433.0 650.2,433.1 650.2,431.8 650.7,432.0 650.7,430.6 650.7,430.2 651.0,428.8 651.3,428.4 652.0,426.5 651.8,426.4 652.3,424.8 652.4,425.6 653.3,423.9 653.6,424.9 653.7,423.6 654.2,423.4 654.1,422.2 654.8,421.4 654.8,418.8 655.0,418.8 655.4,417.6 655.9,418.0 656.1,417.1 656.7,417.7 657.2,416.9 657.5,416.7 657.6,414.9 657.8,414.7 658.4,413.4 658.2,414.1 658.8,412.7 659.2,412.6 659.2,411.5 659.9,411.2 659.9,411.5 660.2,412.6 660.0,412.6 660.4,414.6 660.6,415.5 660.9,417.4 660.7,416.7 660.5,417.3 660.8,416.3 660.7,418.1 661.1,418.8 661.1,419.9 661.4,419.5 661.2,420.9 661.6,420.1 661.6,422.2 661.6,422.5 662.4,424.6 662.4,424.3 662.4,425.4 662.4,425.6 662.5,425.2 662.6,424.1 663.0,424.1 663.1,422.7 663.4,423.6 663.8,422.6 663.9,422.3 664.3,419.6 664.3,419.4 664.5,418.3 665.2,418.6 665.0,417.4 665.2,418.0 665.5,416.7 665.9,416.6 665.7,415.0 666.0,414.4 666.1,412.5 666.3,412.1 666.4,410.7 666.8,410.9 667.2,409.2 667.7,409.4 667.5,407.9 668.3,409.2 668.7,408.5 669.0,409.0 669.0,407.1 668.8,406.8 669.1,405.7 669.5,405.1 669.6,403.9 670.0,403.4 669.6,402.2 669.9,401.8 670.3,400.7 670.4,400.3 670.4,398.5 670.8,398.4 670.7,396.9 670.8,397.5 671.1,396.3 671.4,396.5 671.4,394.4 671.3,394.0 671.7,393.3 672.0,393.9 672.3,393.1 672.3,392.8 672.8,391.7 672.7,391.3 672.8,390.3 673.5,391.8 673.9,392.2 673.7,393.8 674.1,393.3 674.4,394.4 674.5,394.5 674.5,395.9 674.7,396.1 675.0,396.2 675.1,396.4 674.9,396.9 675.0,396.9 675.3,398.4 675.0,398.7 675.3,400.7 675.7,401.7 675.7,403.7 675.9,403.5 676.0,404.8 675.8,404.5 675.4,406.0 675.8,405.4 675.8,406.5 675.8,406.8 675.7,408.6 676.0,409.1 675.8,410.2 675.8,410.0 676.2,411.1 675.8,411.4 675.7,412.4 676.3,411.5 675.9,411.0 675.9,409.6 676.3,408.9 676.3,407.3 676.3,407.2 676.4,405.4 676.5,405.7 676.0,404.8 676.4,405.1 676.1,403.0 676.4,403.1 676.3,400.9 676.5,401.2 676.4,400.4 676.4,400.8 676.6,399.9 676.8,400.5 676.8,399.4 676.7,398.9 676.7,396.9 676.9,396.3 676.8,395.2 677.2,394.8 677.0,393.2 677.0,392.4 676.9,390.7 677.0,390.9 677.1,389.4 677.5,389.8 677.5,388.1 677.6,389.0 677.6,388.3 677.7,388.0 677.8,386.9 678.0,386.4 678.3,385.0 678.5,384.9 678.3,383.1 678.3,383.0 678.9,381.6 678.4,381.5 678.5,379.3 679.2,380.5 679.3,379.9 679.8,381.4 679.8,379.1 679.7,378.5 680.0,376.7 679.7,376.1 680.4,374.8 680.4,374.7 680.7,373.4 680.4,373.3 680.4,372.3 681.1,372.0 681.0,372.1 681.0,373.2 681.0,373.3 681.1,374.3 681.0,374.5 681.3,376.4 681.9,376.7 682.2,379.0 682.1,377.9 681.9,379.4 681.7,378.1 682.3,380.1 682.4,379.6 682.3,381.3 682.8,381.8 682.8,383.7 682.8,384.1 682.7,385.1 683.2,385.2 683.1,386.0 683.4,386.6 683.7,389.0 684.0,389.7 683.8,390.7 683.7,389.0 684.1,389.7 684.3,390.2 684.2,392.1 684.5,392.4 684.9,394.1 685.3,394.2 685.3,395.4 685.7,394.2 685.7,394.0 686.2,392.1 686.8,393.2 687.1,392.4 687.6,393.1 687.8,391.1 687.6,390.7 688.3,388.6 688.2,388.4 689.0,387.4 689.3,388.0 689.5,387.8 689.6,389.0 690.3,389.1 690.8,390.3 691.4,390.8 691.5,389.8 691.4,388.8 692.3,388.8 692.2,387.8 692.7,387.9 693.1,385.9 693.6,386.0 693.9,385.6 694.2,385.8 694.9,385.1 695.0,384.4 695.6,384.3 696.3,385.0 697.1,384.0 698.0,384.2 698.6,382.5 699.2,382.9 699.9,382.3 700.0,381.6 699.6,380.4 700.0,380.6"/>
<polyline stroke-width="5" points="350.5,354.5 351.1,354.4 351.8,355.0 352.3,353.4 353.1,353.0 353.3,351.6 353.5,350.9 353.6,349.8 354.0,349.3 354.0,347.6 354.2,347.4 354.1,345.7 354.0,345.3 354.6,344.3 354.6,345.1 354.9,344.8 354.8,344.5 355.0,342.6 355.2,342.7 355.7,341.6 355.5,341.5 355.9,340.3 356.1,339.7 356.0,338.5 355.8,337.9 355.9,336.9 356.4,337.1 356.6,336.5 356.2,335.9 356.4,333.5 356.5,333.4 356.4,332.2 356.6,332.8 357.2,331.7 357.2,331.3 357.1,330.1 357.1,330.1 357.8,328.5 357.8,328.2 357.7,326.2 357.8,326.4 358.6,325.3 359.1,326.1 359.6,326.4 360.2,327.7 360.7,327.8 360.6,328.3 361.4,328.2 361.1,328.8 361.3,329.4 361.8,330.9 362.0,331.0 361.8,332.7 362.1,333.4 362.2,335.0 362.1,334.5 361.8,335.3 361.8,334.9 362.1,336.6 362.2,337.2 362.4,338.3 363.2,337.9 364.0,337.3 363.7,337.9 363.8,339.2 364.2,339.6 364.0,341.3 364.1,340.9 364.0,342.2 364.0,341.2 364.1,342.7 364.2,342.5 364.2,344.0 364.1,344.6 364.3,346.1 364.1,346.8 364.3,348.0 364.4,348.4 364.6,349.6 365.1,349.7 365.0,350.8 364.9,350.4 365.2,351.6 364.9,350.9 364.9,351.8 365.6,352.2 365.7,353.8 365.7,353.5 365.9,355.5 366.0,356.2 366.4,358.0 366.4,357.7 366.4,358.5 366.6,358.5 366.9,360.2 366.8,360.7 366.6,361.8 366.8,361.0 367.1,360.9 367.3,359.0 368.0,358.9 368.1,357.2 367.9,356.5 368.2,356.1 369.0,356.2 369.1,355.5 369.0,354.9 369.3,353.8 369.9,353.4 370.5,352.5 371.1,353.3 371.4,352.3 371.8,352.1 372.5,350.6 372.7,351.9 372.5,352.2 372.6,353.2 372.7,353.0 372.7,354.7 372.7,354.5 373.0,356.2 373.1,356.1 373.1,357.8 372.8,358.1 373.0,359.6 373.0,359.7 373.0,360.6 373.3,360.9 373.5,361.9 373.1,362.3 373.5,363.1 373.3,362.9 373.3,363.6 373.4,363.8 373.8,365.4 373.6,365.4 373.8,367.3 373.5,367.5 373.7,369.1 374.1,368.8 374.0,369.6 374.1,369.2 373.8,371.5 374.3,371.6 374.3,373.0 374.5,372.5 374.1,373.5 374.4,373.2 374.7,375.3 374.5,376.0 374.8,377.6 374.9,377.6 375.2,378.4 375.4,377.4 375.1,377.0 375.3,374.8 375.7,374.3 376.0,373.5 376.4,374.4 376.6,373.3 377.0,373.1 377.1,371.8 377.6,372.5 377.7,372.4 378.5,373.2 378.6,373.3 379.3,375.0 379.6,374.8 379.6,376.3 380.3,376.1 380.9,377.3 381.0,377.6 381.3,378.3 381.6,378.3 381.8,379.8 382.4,380.3 382.9,382.4 383.3,383.2 383.7,384.1 383.8,384.0 383.7,384.7 384.1,384.6 384.4,385.3 384.8,383.7 385.2,383.7 385.4,383.0 385.4,384.2 385.6,381.7 385.5,381.1 385.7,379.0 386.2,379.3 386.6,378.7 386.8,378.3 387.3,377.3 387.6,378.2 388.4,377.0 388.4,376.1 388.9,376.3 390.0,377.0 390.3,376.4 391.2,377.2 391.8,376.6 392.1,377.6 392.9,377.7 393.7,378.1 394.1,377.7 395.1,378.5 395.6,378.3 396.3,378.7 397.1,378.4 398.2,379.2 398.6,379.6 399.1,381.7 400.1,382.6 399.8,382.5 400.5,381.7 400.8,382.8 401.5,382.5 402.2,383.8 402.7,384.4 402.9,385.9 403.6,386.3 404.0,387.0 404.2,386.1 404.4,385.6 404.8,384.1 405.4,384.8 405.7,384.0 406.2,384.5 406.1,382.5 406.5,381.5 406.5,380.1 407.0,380.1 407.4,379.5 407.7,380.4 408.4,379.0 408.5,379.1 408.6,377.3 409.3,377.0 409.3,375.5 409.8,374.7 409.6,375.4 409.8,377.0 409.9,377.3 409.9,378.5 410.0,378.3 410.2,378.9 410.2,379.4 410.3,381.3 410.4,381.4 410.1,383.1 410.5,382.9 410.6,383.9 410.7,384.0 410.6,385.0 410.6,385.1 410.7,386.3 410.9,386.7 410.8,388.1 411.1,388.1 411.4,390.0 411.6,390.0 411.2,391.3 411.3,390.9 411.5,392.1 411.3,392.5 411.8,391.6 412.4,390.2 412.6,390.6 413.6,390.3 414.0,390.4 414.8,389.7 415.7,389.2 415.9,388.1 417.3,388.5 417.2,388.9 417.5,390.2 417.9,390.5 418.0,392.4 418.6,392.4 418.5,393.5 418.9,392.3 419.1,393.5 419.0,393.4 419.9,394.7 420.0,396.0"/>
<polyline stroke-width="5" points="545.8,393.4 546.5,393.3 546.6,393.1 546.6,392.6 546.4,391.7 546.6,390.2 546.7,389.3 546.7,388.2 546.4,388.6 546.6,388.1 546.8,387.5 546.5,385.1 546.2,384.8 546.3,383.1 546.3,383.8 546.8,381.9 546.9,383.1 547.3,382.6 546.9,383.7 547.0,381.2 546.6,380.1 546.8,378.1 546.6,378.5 547.0,377.5 547.0,377.8 546.9,376.5 546.8,376.1 546.7,374.8 547.1,374.5 546.7,373.5 547.0,373.0 548.0,372.3 548.5,372.9 549.0,371.9 549.9,372.1 550.8,371.5 550.8,370.8 551.0,369.8 551.2,369.9 551.0,369.3 551.4,368.5 551.3,366.4 550.9,365.8 551.3,364.2 551.0,364.7 551.0,363.2 551.5,363.1 551.1,361.2 551.3,361.2 551.5,359.5 551.6,360.3 551.7,359.1 551.7,359.2 551.8,357.8 551.8,357.8 552.2,357.2 552.1,356.9 552.4,356.1 552.1,355.4 552.6,354.0 553.0,353.2 553.1,352.0 553.5,352.9 553.3,352.6 553.7,354.0 553.7,353.8 554.2,355.4 554.5,356.0 555.1,358.8 555.3,359.5 555.2,359.7 554.9,358.8 555.5,359.5 555.8,360.3 555.9,361.6 556.0,362.2 555.7,363.3 556.2,363.3 556.0,364.4 556.3,364.6 556.3,366.2 556.3,366.7 556.3,367.7 556.2,367.2 556.3,368.2 556.4,368.8 556.6,370.8 556.6,371.1 556.7,372.1 557.0,372.2 556.6,373.2 557.1,373.2 557.1,374.7 557.4,375.0 557.2,376.4 557.6,376.6 557.6,377.7 557.3,378.0 557.4,379.1 557.4,379.0 557.8,380.2 557.7,379.3 557.8,380.7 558.1,380.2 558.2,381.8 558.0,381.8 558.4,384.1 558.7,385.0 558.5,386.3 559.2,385.3 559.7,385.3 560.0,383.6 560.5,383.4 561.1,381.4 561.1,381.4 561.7,381.0 562.7,381.3 563.0,380.5 563.0,381.7 563.1,381.9 563.6,382.7 564.1,383.1 564.1,385.1 564.1,384.6 564.3,386.7 564.9,386.4 564.9,388.2 565.1,387.5 565.0,388.2 565.3,388.5 565.8,389.3 566.3,388.9 566.6,390.1 567.6,390.4 568.0,392.2 568.4,392.6 568.9,392.7 569.4,392.5 570.0,392.9 570.6,393.0 571.0,395.3 571.7,395.3 572.2,395.9 572.7,395.7 572.9,396.1 573.5,396.5 573.8,398.2 574.3,398.8 574.7,400.3 574.8,400.2 575.5,401.1 575.9,401.3 575.9,402.5 576.2,402.4 576.6,402.3 576.9,401.4 577.4,401.4 578.2,399.8 578.3,399.8 578.5,398.1 578.9,397.6 579.3,395.9 579.6,395.5 580.1,394.8 580.2,394.6 580.9,393.8 581.1,394.9 581.0,395.4 581.1,396.9 581.8,396.7 581.7,398.3 582.1,398.3 582.3,399.0 582.0,398.8 582.5,399.7 582.7,400.6 583.4,402.4 583.5,403.1 583.6,403.7 584.4,402.8 584.6,402.8 585.5,401.3 586.2,402.0 586.7,400.8 587.1,400.1 587.0,398.9 587.4,398.2 587.5,396.5 587.7,396.7 587.6,395.0 587.4,395.0 587.8,393.3 587.7,393.0 588.2,392.3 588.1,392.5 588.5,391.8 588.5,391.3 588.4,389.9 588.7,389.6 589.0,388.1 589.0,388.0 588.9,386.6 589.2,386.8 589.2,385.3 589.3,385.4 589.7,384.4 589.7,384.3 589.7,383.2 589.7,384.4 589.9,384.9 589.8,386.7 589.9,386.0 589.8,386.8 589.7,386.0 590.0,387.5 590.2,388.0 590.4,389.8 590.5,389.1 590.8,390.6 590.6,390.6 591.0,392.4 591.0,393.0 591.0,394.3 591.2,395.0 591.6,397.0 591.8,397.6 592.3,398.1 592.2,396.9 592.3,397.9 592.8,398.6 592.8,399.9 593.4,400.1 594.6,400.5 595.0,399.1 595.7,399.5 596.7,399.4 596.9,399.9 597.0,399.1 597.4,401.5 598.3,402.2 598.6,404.0 598.8,404.1 599.0,404.9 599.3,404.9 599.4,406.0 599.2,405.9 599.4,407.0 600.0,408.4"/>
<polyline points="128.5,322.5 128.8,323.0 128.5,324.3 128.6,324.6 128.6,325.8 128.4,326.1 128.9,327.8 128.9,327.7 128.9,329.7 129.1,329.4 129.0,330.5 128.7,330.2 128.8,331.1 128.6,331.2 128.8,332.7 128.9,332.1 129.0,334.7 128.8,334.1 128.7,336.1 129.0,335.7 128.8,337.3 128.9,336.7 129.2,338.3 128.8,337.4 128.7,339.1 128.9,338.5 129.2,341.1 128.9,340.9 129.2,342.5 129.5,342.7 129.5,344.3 129.1,344.3 129.2,345.6 129.2,345.8 129.2,347.2 129.4,347.4 129.3,348.7 129.3,348.5 129.6,349.3 129.3,349.7 129.6,350.4 129.4,350.5 129.4,351.8 129.5,352.1 129.3,353.3 129.7,353.2 129.8,354.9 129.4,354.1 129.8,355.4 129.8,355.7 130.1,358.5 129.8,358.4 129.9,361.1 130.1,360.9 130.1,362.2 130.2,362.0 130.0,363.5 130.1,362.7 130.1,363.5 129.7,362.8 129.8,363.7 130.1,364.4 130.3,367.2 130.1,367.6 130.4,369.6 130.5,369.8 130.5,371.0 130.5,370.9 130.4,371.8 130.4,371.8 130.5,372.8 130.6,373.1 130.5,372.7 130.9,371.6 130.7,371.5 130.8,370.0 130.8,370.0 130.6,368.4 130.9,368.3 130.6,365.8 130.3,365.7 130.6,364.1 130.5,364.5 130.3,362.3 130.4,362.5 130.5,361.3 130.8,361.8 130.8,360.5 131.1,361.5 131.1,359.1 131.1,359.5 130.8,357.0 131.1,356.7 131.0,355.1 131.1,356.0 131.3,354.4 131.2,354.6 131.2,353.2 131.1,353.4 131.3,352.1 131.2,351.9 131.2,350.7 131.2,350.3 131.2,349.5 131.6,348.8 131.5,347.7 131.6,347.5 131.9,346.4 131.5,346.6 131.9,345.1 131.8,345.5 131.8,343.5 131.9,343.8 132.3,342.3 132.5,343.3 132.4,341.7 132.6,343.0 132.7,340.8 132.5,340.8 132.4,338.7 132.3,338.7 132.9,336.5 132.5,337.5 132.8,335.6 132.8,336.4 133.2,334.5 133.1,334.1 132.7,332.8 133.2,332.9 132.9,331.4 132.9,331.4 133.2,330.1 133.2,330.0 133.6,328.7 133.3,328.2 133.7,328.3 133.5,329.8 133.7,329.3 133.6,330.7 133.6,330.0 133.8,332.0 133.9,332.4 134.1,334.9 134.4,335.0 134.7,337.1 134.9,336.9 134.8,337.9 134.7,337.7 134.9,338.6 135.0,337.8 135.8,337.9 135.9,336.6 135.7,337.1 135.9,335.3 136.1,335.4 136.2,333.4 136.5,333.6 136.6,331.4 136.6,331.1 136.3,329.9 136.4,329.1 136.4,327.9 136.9,327.5 136.8,326.2 136.7,326.3 136.6,324.2 137.2,324.8 137.3,322.8 137.4,323.5 137.5,320.7 137.1,321.7 137.4,319.3 137.4,320.0 137.5,318.7 137.8,319.3 138.0,318.3 138.4,318.3 138.4,317.1 138.2,318.2 138.3,318.3 138.3,319.4 138.3,319.4 138.6,321.5 138.5,321.8 138.6,323.6 138.8,323.4 138.8,324.4 138.7,323.6 139.0,324.8 139.1,325.3 139.2,327.3 139.5,327.8 139.6,329.9 139.3,329.4 139.2,331.0 139.5,330.4 139.3,332.0 139.2,331.1 139.1,332.4 139.2,331.9 139.1,333.0 139.6,333.4 139.6,334.8 139.5,335.0 139.7,336.2 139.6,336.3 139.8,338.7 139.9,339.0 140.3,341.8 139.9,340.7 140.1,342.3 140.2,341.3 139.9,342.8 140.5,343.1 140.2,344.4 140.7,343.6 140.8,343.7 141.0,342.3 140.6,342.3 140.8,339.9 140.9,340.2 140.8,337.5 140.5,338.2 140.9,335.9 141.0,335.9 141.0,334.3 141.0,335.4 141.5,334.6 141.6,335.4 141.7,333.7 141.9,334.0 142.0,332.3 142.1,332.3 141.7,330.7 141.8,330.1 142.0,328.7 142.4,328.2 142.1,326.7 142.6,326.6 142.7,324.8 142.8,324.5 142.8,322.7 143.1,323.5 143.2,322.2 143.0,322.7 143.5,321.6 143.6,322.2 144.0,321.1 143.8,320.7 144.2,319.8 144.2,320.0 144.7,318.4 144.6,318.8 145.0,316.1 144.8,315.9 144.9,313.8 145.0,313.3 145.4,311.8 145.3,312.3 145.9,311.0 145.9,311.1 146.0,310.1 146.4,309.8 146.6,309.3 146.5,310.7 146.7,309.6 147.2,311.7 147.3,311.9 147.9,313.7 148.4,313.8 148.5,315.7 148.6,315.9 148.9,318.6 149.0,317.4 149.2,318.2 149.5,316.8 149.4,316.1 149.6,315.2 149.4,315.1 149.7,313.7 149.6,314.6 150.0,312.8 149.8,312.7 149.7,310.8 149.7,311.2 149.9,308.6 150.1,309.5 149.8,306.8 149.9,307.4 150.3,306.3 150.1,306.7 150.4,305.6 150.7,305.8 150.3,304.2 150.3,303.7 150.2,302.3 150.6,301.8 150.7,300.7 150.9,300.8 151.0,299.7 151.1,299.9 151.4,297.6 151.4,297.5 151.1,295.4 151.3,295.2 151.6,294.3 151.7,294.5 151.9,293.8 151.8,293.6 152.1,293.4 152.3,294.6 152.4,294.1 152.9,295.6 153.2,295.1 153.4,297.3 153.8,297.5 154.7,297.8 155.8,297.3 156.9,298.8 156.4,299.6 157.1,301.4 157.2,301.6 157.2,302.8 157.0,302.9 157.6,304.6 157.6,304.0 157.3,304.7 157.2,304.4 157.6,305.4 157.5,305.6 157.9,308.2 157.9,308.1 158.2,309.7 157.8,309.3 157.9,310.2 158.1,310.3 158.0,311.1 158.2,311.3 158.5,312.4 158.5,312.4 158.5,314.2 158.6,314.5 158.9,316.8 159.0,316.6 159.4,318.5 159.4,318.0 159.2,319.5 159.8,319.4 159.7,320.3 159.6,320.5 159.9,321.4 159.8,321.2 160.0,321.9 159.8,322.7 160.2,325.1 160.5,325.2 160.8,328.0 161.0,327.3 161.1,328.4 160.7,327.0 160.9,328.3 161.0,328.0 161.2,329.3 161.2,329.3 161.6,331.2 161.2,331.2 161.8,333.3 161.5,333.5 161.9,334.9 162.3,334.9 162.0,336.1 162.4,335.8 162.5,337.1 162.7,337.0 162.9,338.6 162.9,338.2 163.6,339.9 163.6,339.4 163.5,340.7 164.3,340.4 164.5,341.9 164.5,342.2 165.0,343.7 165.3,344.4 165.0,343.8 165.5,342.3 166.1,342.8 166.3,341.6 166.8,342.1 167.0,340.5 167.1,340.1 167.2,338.7 167.6,338.5 168.0,337.7 168.4,337.6 168.6,336.2 169.1,337.2 169.3,334.8 169.5,335.0 170.1,333.2 170.1,333.1 170.8,332.2 171.1,332.0 171.4,330.9 171.9,331.2 172.0,329.8 172.3,331.0 172.7,329.6 173.5,330.1 173.6,328.1 173.8,327.7 173.8,325.9 174.5,325.7 174.2,325.9 174.4,327.2 174.8,327.3 174.7,329.2 175.2,328.7 175.6,331.3 175.5,330.6 175.9,333.0 176.0,331.8 175.6,332.9 175.5,332.2 175.8,333.3 176.0,333.7 176.3,334.9 176.4,335.6 176.6,336.5 176.6,336.5 177.3,338.7 177.5,338.8 177.8,341.7 178.3,340.9 178.0,342.5 178.6,342.4 178.7,343.7 178.6,343.1 178.9,344.3 178.9,343.8 179.0,344.8 179.4,343.8 179.5,343.4 179.0,341.5 179.1,341.7 179.3,340.0 179.6,341.3 179.7,339.6 179.9,340.4 180.3,338.7 180.5,340.0 180.7,338.0 180.4,338.5 180.4,335.9 180.5,335.5 180.5,333.4 180.7,333.1 180.6,332.3 181.0,332.3 181.3,333.0 181.4,334.7 181.9,334.7 182.3,337.0 182.5,336.1 182.7,337.9 182.6,337.4 182.8,339.1 182.9,338.0 182.7,339.7 183.4,339.6 183.1,340.7 183.8,340.9 183.5,342.0 184.1,341.4 184.3,342.9 184.6,342.3 184.4,343.7 185.4,343.2 185.4,345.1 185.8,346.0 186.6,345.6 187.3,345.5 188.1,347.8 189.0,347.6 190.2,349.3 190.5,348.4 191.3,348.7 191.9,347.6 192.3,346.8 192.4,345.7 192.9,345.9 192.8,344.9 193.2,345.8 193.5,343.1 193.6,343.0 193.9,341.4 193.8,341.1 194.5,340.3 194.4,340.3 195.1,339.4 195.0,340.3 195.7,338.5 196.0,338.6 195.9,336.5 196.4,336.6 196.7,335.1 196.8,334.6 196.9,333.2 197.2,332.9 197.9,330.9 198.3,331.5 198.6,330.0 198.8,330.5 199.0,329.4 199.7,330.0 200.1,328.8 200.6,329.2 200.8,327.9 201.7,327.3 201.6,325.4 202.0,325.3 202.7,324.5 203.5,325.1 204.1,324.5 204.7,325.1 205.1,324.4 206.0,325.8 207.2,325.7 207.1,326.9 207.0,327.4 207.1,329.0 207.6,329.1 207.5,331.0 207.4,330.8 207.8,332.4 207.2,331.5 207.5,333.0 207.3,332.8 207.7,333.9 207.2,333.5 207.7,334.9 207.8,335.0 207.7,337.2 207.9,338.0 208.0,340.2 208.0,339.0 208.1,340.0 207.9,339.0 208.0,340.3 208.0,340.2 208.0,341.8 208.0,341.5 208.4,343.2 208.1,343.5 208.7,344.8 208.2,343.6 208.3,343.5 208.3,342.0 208.4,342.0 208.7,340.8 208.7,341.0 208.9,339.0 208.5,338.6 208.6,336.9 208.6,336.9 208.6,335.3 208.6,335.6 208.8,333.4 208.7,334.4 208.6,332.5 208.8,333.6 209.2,332.0 209.4,332.3 209.2,330.9 209.6,331.1 209.4,329.9 209.6,329.8 209.4,328.5 209.3,328.1 209.8,325.9 210.0,325.9 210.3,324.0 210.7,325.1 210.7,324.1 210.9,325.1 211.3,325.8 211.2,327.2 211.6,327.5 211.8,329.9 211.8,329.9 212.0,331.2 212.3,331.0 212.0,333.0 212.3,332.3 212.5,334.2 212.0,333.1 212.0,335.1 212.5,334.2 212.7,336.3 212.8,335.8 212.6,337.4 212.6,337.5 212.6,338.7 212.7,338.5 213.1,339.7 213.0,339.9 213.0,340.6 213.3,340.6 213.5,341.5 213.6,341.1 213.3,343.0 213.6,341.9 213.8,343.6 213.6,343.2 213.8,344.6 214.2,344.5 214.1,346.6 214.3,347.1 214.8,349.3 214.9,350.2 215.0,352.2 215.3,351.5 215.5,352.9 215.4,352.9 215.6,354.0 215.5,354.1 216.0,354.3 216.2,353.1 216.7,354.1 216.4,351.3 216.8,350.9 216.3,347.9 216.2,347.4 216.8,346.8 217.2,347.5 217.2,346.3 217.6,346.3 217.7,345.2 217.8,345.3 218.5,343.2 218.2,343.4 218.6,342.0 218.9,342.4 219.2,341.2 219.5,340.9 219.9,341.0 220.2,342.1 220.6,341.8 220.5,342.9 221.0,343.5 221.6,345.1 221.8,345.1 222.8,347.1 223.0,346.7 223.6,347.2 223.4,346.2 224.0,346.9 224.3,347.4 225.1,348.9 225.1,349.3 225.0,350.8 225.0,351.1 225.1,353.0 225.2,352.9 225.5,354.9 225.4,354.3 225.5,356.6 225.8,356.0 225.8,358.2 225.7,357.6 225.5,359.2 225.9,358.7 225.7,359.9 225.7,360.1 225.8,361.4 226.1,361.7 226.0,362.9 225.9,362.9 225.9,365.2 225.9,364.8 226.4,366.4 226.4,366.6 226.2,368.1 226.4,367.7 226.2,368.9 226.3,368.6 226.6,369.8 227.0,369.2 227.2,371.0 227.4,370.6 227.9,372.2 229.3,371.5 229.8,371.3 230.4,371.7 231.1,372.9 231.6,372.9 232.2,373.2 232.6,373.1 233.6,373.4 234.6,372.6 235.3,372.2 235.6,372.8 235.8,373.7 236.4,373.6 236.6,374.5 237.1,374.9 237.4,376.1 238.2,376.5 238.4,377.2 239.1,376.5 239.0,376.2 239.2,375.1 239.9,374.9 240.0,373.6 240.0,373.1 240.7,372.0 241.1,371.6 241.3,370.3 241.6,370.1 242.1,369.0 242.9,369.9 243.2,369.9 243.4,371.0 244.1,371.2 244.8,372.0 245.1,372.3 246.0,373.5 246.6,373.7 247.0,374.4 247.4,373.6 248.3,373.5 248.5,372.7 249.2,372.4 249.6,371.5 250.2,371.0 250.6,370.1 250.9,369.6 252.1,368.8 252.7,369.0 252.9,368.6 253.9,368.3 254.2,368.8 254.9,370.0 255.2,370.4 255.7,371.2 255.9,371.2 256.7,372.3 257.2,372.4 258.1,372.6 258.4,372.1 259.2,372.1 259.7,371.1 260.5,371.1 261.0,369.9 261.4,369.7 261.9,368.9 262.5,368.6 263.2,367.8 264.0,368.0 264.1,367.4 264.6,367.5 265.5,366.5 265.8,366.2 267.0,365.6 267.6,365.7 268.2,364.8 269.0,364.6 269.4,365.0 269.5,366.0 269.3,366.5 269.7,368.0 269.7,368.3 270.0,370.0 269.8,369.6 269.9,370.5 270.3,370.9 270.3,371.9 270.8,372.5 270.8,373.4 270.8,374.1 270.9,375.3 271.1,375.5 271.0,376.2 271.0,376.2 271.2,376.9 271.0,377.4 271.2,378.7 271.6,379.4 271.9,380.8 271.5,380.9 271.6,382.1 272.0,382.2 271.7,383.2 272.2,383.6 271.9,384.4 272.0,384.8 272.6,385.7 272.3,386.3 272.3,387.4 272.7,387.9 272.4,387.5 272.7,386.5 272.7,386.1 272.7,385.0 273.3,384.5 272.9,383.4 273.3,383.1 273.0,382.2 273.2,382.0 273.5,380.8 273.6,380.8 273.6,379.7 273.7,379.5 273.7,378.2 273.8,377.4 273.5,376.0 273.7,375.5 273.7,374.4 274.2,373.9 274.0,372.9 274.3,372.5 274.1,371.7 274.5,371.2 274.6,370.5 274.3,370.0 274.9,369.1 275.1,368.8 275.3,368.0 275.6,367.6 275.3,366.5 275.4,366.1 275.8,364.7 275.8,364.3 276.3,362.9 276.2,362.7 276.6,361.8 276.7,361.4 277.2,360.8 277.2,360.4 277.5,359.7 277.9,360.9 278.0,361.5 278.0,362.7 278.3,362.9 278.4,364.0 278.9,364.2 279.0,365.1 279.0,365.6 279.5,366.6 279.7,367.0 279.6,368.4 279.9,368.8 280.7,368.8 281.3,367.8 281.5,367.4 282.1,366.1 282.8,365.6 283.2,364.9 283.6,364.7 284.3,363.7 284.8,363.9 285.2,362.5 285.8,362.1 285.9,361.4 285.8,360.7 285.7,359.7 285.9,359.3 286.1,358.4 286.0,358.1 286.4,357.1 286.1,356.9 286.0,355.8 286.1,355.8 286.2,354.8 286.0,354.3 286.2,353.4 286.7,353.2 286.1,351.9 286.2,351.6 286.5,350.3 286.7,350.0 286.3,348.8 286.2,348.2 286.3,347.0 286.1,346.5 286.7,345.6 286.5,345.0 286.1,344.2 286.3,343.9 286.5,342.7 286.8,342.2 286.2,341.2 286.5,340.8 286.6,339.4 286.7,339.1 286.3,338.0 286.3,337.6 286.4,336.9 286.4,336.5 287.1,336.8 288.2,338.0 287.8,338.7 288.2,339.7 288.2,340.3 288.4,341.4 288.5,341.9 288.4,343.0 288.3,343.5 288.3,344.5 288.5,344.8 288.4,345.8 288.2,346.1 288.6,347.4 288.7,347.7 288.5,348.9 288.8,349.3 288.9,350.5 288.6,350.5 288.5,351.5 288.3,351.4 288.3,352.3 288.4,352.8 288.6,353.7 288.9,354.2 288.6,355.1 289.0,355.8 288.5,355.3 288.9,354.4 288.7,354.0 289.1,352.9 289.1,352.3 288.9,351.1 288.7,350.9 288.9,349.7 289.2,349.1 288.8,348.0 289.1,347.9 289.3,346.7 288.9,346.5 289.2,345.4 289.6,345.1 289.5,344.2 289.7,343.9 289.5,342.9 289.6,342.5 289.7,341.5 289.6,340.8 289.6,339.9 289.9,340.8 289.7,341.3 289.5,342.2 289.9,342.6 289.7,343.6 289.9,344.1 289.6,345.2 289.8,345.8 290.0,347.3 290.0,347.7 289.9,349.0 290.3,349.3 290.4,350.5 290.3,350.4 290.3,351.5 290.5,351.5 290.3,352.3 290.2,352.6 290.3,353.5 290.2,353.7 290.5,354.8 290.5,355.3 290.5,356.3 290.3,357.0 290.7,357.9 290.4,357.1 290.3,356.6 290.7,355.8 290.5,355.6 290.9,354.5 290.9,353.8 290.7,352.5 290.5,351.7 290.6,350.7 290.5,350.9 291.1,350.0 290.8,349.9 290.8,348.6 291.1,348.3 291.0,347.1 291.0,346.7 291.1,345.6 291.4,345.1 291.4,343.9 291.2,343.4 291.4,342.7 291.3,342.3 291.1,341.5 291.2,341.0 291.4,340.0 291.8,339.4 291.8,337.8 292.0,337.3 292.0,336.7 292.3,336.0 292.6,334.9 292.7,334.6 293.0,333.5 292.8,333.1 293.1,332.0 293.4,332.0 293.6,330.6 293.7,330.3 293.9,328.9 294.3,328.5 294.4,328.0 294.8,327.5 294.6,328.2 295.0,329.4 295.0,329.7 294.9,330.5 295.1,330.5 295.0,331.4 295.2,331.6 295.6,332.6 295.9,332.9 295.7,334.0 296.1,334.3 295.8,335.6 296.4,336.0 296.2,337.0 296.3,337.8 296.8,338.7 296.7,339.3 296.7,340.4 297.0,340.7 297.1,341.8 297.0,342.0 297.0,343.1 297.3,343.3 297.2,344.7 297.2,345.1 297.4,346.2 297.3,346.6 297.6,347.7 298.0,348.0 297.7,348.8 297.8,349.4 298.1,350.2 298.0,350.8 298.0,351.7 298.5,352.3 298.6,353.4 298.3,353.9 298.6,355.0 298.9,355.3 298.9,356.2 299.0,356.4 298.9,357.6 299.4,357.5 299.5,358.6 299.0,358.3 299.1,359.5 299.2,359.9 299.5,361.2 299.8,361.5 300.0,362.8 299.9,363.0 299.8,363.8 300.0,364.0 300.2,365.2 300.0,365.5 300.5,366.4 300.3,367.0 300.3,367.9 300.7,368.6 301.5,368.6 302.0,368.3 303.1,369.1 303.9,369.0 304.6,369.4 305.5,369.6 306.2,370.2 306.9,369.7 307.9,370.0 308.1,369.1 307.9,368.5 308.2,367.4 308.1,367.1 308.3,365.8 308.5,365.7 308.5,364.4 308.5,364.3 308.6,363.1 308.8,363.0 308.5,361.8 308.9,361.8 309.2,360.9 309.0,360.6 309.3,359.5 309.2,358.9 309.3,358.0 309.4,357.4 309.5,356.6 309.5,356.3 310.3,355.3 310.3,355.1 310.9,354.2 310.9,354.0 311.5,353.1 312.0,352.8 312.2,351.7 313.1,351.4 313.2,350.4 313.8,349.9 314.0,349.2 314.4,350.2 314.8,350.6 315.3,352.2 315.5,352.4 315.4,353.4 315.9,353.6 315.9,354.3 316.2,354.8 316.4,355.4 317.0,355.2 316.8,356.0 317.3,356.7 318.0,357.8 317.9,358.5 318.7,359.9 318.7,360.1 319.2,361.2 319.1,361.3 319.6,362.2 319.8,362.4 320.3,363.0 320.2,363.2 321.1,364.1 321.5,364.1 321.9,365.6 322.0,366.0 322.9,367.1 323.2,366.9 324.4,367.3 325.2,366.8 325.7,367.5 326.6,367.0 327.2,367.4 327.7,367.1 328.9,367.5 329.5,367.1 330.2,367.3 330.9,366.6 331.2,366.5 332.1,366.3 332.8,366.5 333.8,366.2 334.4,366.0 335.2,365.6 335.7,365.8 336.2,365.2 336.6,365.5 337.2,364.5 338.3,364.6 338.7,363.6 339.5,363.5 340.1,362.8 340.2,362.9 341.3,362.4 342.0,362.8 342.3,361.8 343.3,362.1 343.9,360.9 344.7,361.0 345.2,360.3 345.8,360.2 346.2,359.6 346.9,359.4 346.8,358.1 347.1,357.7 347.7,356.9 348.3,356.3 349.0,355.6 349.7,355.6 350.0,355.0 350.2,354.7 351.4,354.2 351.8,354.5 352.3,353.1 352.7,353.0 353.3,351.6 353.7,351.3 353.8,350.1 354.0,349.8 353.8,348.6 354.4,349.0 354.5,347.6 354.6,347.6 354.7,345.9 355.0,345.5 354.6,343.3 354.8,343.1 355.2,342.5 355.2,342.6 355.6,341.8 355.8,341.8 356.1,340.3 356.2,339.8 356.2,339.1 356.2,338.9 356.1,337.7 356.2,338.1 356.6,336.9 356.8,336.6 356.9,334.8 356.7,334.7 356.4,332.8 356.5,332.6 357.1,331.3 356.7,331.2 357.1,330.1 357.5,330.0 357.5,328.5 357.5,328.2 358.1,326.5 358.2,326.1 358.1,325.3 359.1,326.5 359.7,326.6 359.8,328.3 360.2,328.0 361.0,329.0 361.2,328.6 361.3,329.7 361.3,330.0 361.6,331.1 361.9,331.0 361.9,332.1 361.5,332.1 361.9,333.4 361.6,332.9 361.8,334.5 362.3,334.7 362.1,336.3 362.7,336.8 362.8,338.1 362.9,337.1 364.0,337.0 363.7,337.7 364.1,338.8 363.7,339.2 363.9,340.7 364.2,340.8 364.0,342.7 364.0,342.4 364.4,343.6 364.4,343.6 364.2,344.9 364.0,344.7 364.3,345.9 364.7,346.3 364.3,347.0 364.6,347.6 364.8,348.8 365.0,349.4 364.8,351.0 365.4,350.6 365.4,351.7 365.5,351.4 365.3,352.4 365.2,352.8 365.4,354.3 366.0,354.9 366.0,356.7 366.2,356.6 365.9,357.5 366.2,357.0 366.4,358.0 366.3,358.6 366.5,359.7 366.9,360.2 367.0,361.3 367.3,360.3 367.5,360.5 367.4,359.4 367.7,359.9 368.1,357.6 368.1,357.6 368.6,355.5 368.8,355.7 369.2,354.5 369.3,354.3 369.6,353.6 369.9,352.9 370.3,352.0 370.8,351.9 371.3,350.9 372.0,351.4 372.3,350.4 372.1,351.5 372.5,351.9 372.3,353.3 372.4,353.7 372.5,355.0 372.6,355.0 372.9,357.0 373.0,356.8 372.8,358.3 373.0,357.8 373.1,359.0 372.9,359.4 373.3,360.9 373.2,361.0 372.9,361.9 373.1,362.1 373.1,363.0 373.1,363.5 373.6,364.4 373.3,364.9 373.7,366.2 373.8,366.5 374.1,368.3 374.0,368.0 374.0,368.7 374.1,368.0 374.0,368.9 374.1,368.9 373.8,370.7 374.0,370.8 373.9,372.3 374.1,372.6 374.6,373.9 374.7,374.4 374.5,375.9 374.9,375.7 375.0,376.9 375.1,377.2 374.9,378.1 375.1,377.1 375.3,377.2 376.0,375.9 375.9,376.2 376.3,374.9 376.8,374.9 376.8,373.4 377.1,373.1 377.3,372.0 377.5,372.8 378.0,372.9 378.7,374.1 378.9,374.3 379.2,375.8 379.8,376.1 379.9,377.3 380.2,377.2 380.4,377.9 380.8,378.0 381.4,379.0 381.6,379.0 381.8,380.2 382.4,380.2 382.7,381.4 383.2,381.1 383.2,382.9 383.4,382.9 383.9,384.3 384.4,384.7 384.9,385.8 384.9,384.7 385.2,385.0 385.2,384.1 385.7,384.2 385.9,382.4 386.0,382.7 386.2,380.5 386.3,380.1 386.5,378.9 386.9,378.1 387.1,376.7 387.6,377.3 388.0,376.5 388.1,376.1 388.9,376.3 389.6,377.7 390.9,377.7 391.5,378.4 392.1,377.6 392.4,378.4 393.0,378.0 393.6,378.5 394.7,378.3 395.2,379.1 395.9,378.4 396.7,379.4 397.6,378.9 397.9,379.4 398.7,379.5 398.9,380.2 399.3,380.4 399.8,381.8 400.4,382.0 400.9,383.1 401.5,383.3 402.2,384.5 402.8,384.4 403.0,385.7 403.7,385.9 404.2,386.8 404.6,386.0 404.9,385.8 404.9,384.2 405.2,384.0 405.4,381.8 405.7,381.6 406.3,381.3 406.2,381.8 406.6,380.9 406.8,380.4 407.6,379.8 407.5,379.3 407.8,378.0 408.3,378.0 408.7,375.9 409.0,376.3 409.4,374.9 409.5,374.5 409.4,374.9 409.8,376.3 409.9,376.7 409.9,378.6 409.8,378.5 409.9,379.8 410.3,379.7 410.3,381.0 410.4,380.6 410.2,382.4 410.3,382.3 410.2,383.3 410.6,384.0 410.3,384.9 410.7,385.6 410.7,387.1 410.8,386.8 411.0,388.0 410.9,387.2 410.9,388.5 411.2,388.5 411.0,390.6 411.1,391.1 411.4,392.2 411.5,392.7 412.3,392.5 412.7,390.9 412.9,391.4 413.5,390.4 413.8,390.3 415.1,389.9 415.6,391.0 416.3,389.6 417.2,388.8 417.3,389.5 417.5,391.0 417.8,390.8 418.0,391.9 418.3,391.2 418.5,392.5 418.8,392.6 419.1,393.9 419.3,394.1 419.7,395.5 419.8,395.9 420.1,396.6 420.5,397.1 421.3,397.9 421.3,398.3 421.9,399.3 421.9,399.6 422.3,400.7 423.1,401.1 423.2,402.1 423.9,402.6 424.5,403.1 424.9,403.3 425.9,403.9 426.6,403.7 427.4,404.2 427.9,404.0 428.8,404.4 429.8,404.1 430.5,404.6 431.1,404.4 431.6,404.8 432.5,404.7 433.4,405.0 434.0,405.2 434.6,405.7 435.5,405.7 435.9,406.3 436.6,406.4 437.5,407.2 438.2,407.4 439.0,407.9 439.5,408.0 440.2,408.8 441.0,408.7 441.8,409.3 442.2,409.1 443.2,409.4 443.7,408.8 444.9,408.9 445.3,408.6 446.5,408.7 446.9,408.5 447.8,408.7 448.6,408.0 449.1,407.8 449.7,407.3 450.7,407.3 451.1,406.7 451.5,406.3 452.2,405.7 452.9,405.7 453.6,405.1 454.0,405.0 454.4,404.2 455.3,403.9 456.1,403.1 456.3,403.2 457.2,402.5 458.0,402.1 458.6,401.4 458.7,401.2 459.4,400.3 460.0,399.9 460.4,399.4 460.8,399.0 461.8,398.2 462.5,398.1 463.0,397.4 463.7,397.0 464.1,397.6 464.6,398.6 464.6,398.8 464.9,399.7 465.5,400.1 465.9,400.9 466.3,401.5 466.9,402.4 467.2,402.9 467.8,404.1 467.9,404.1 468.4,405.1 468.4,405.5 468.6,404.8 469.1,403.9 469.2,403.7 469.7,402.7 470.3,402.5 470.7,401.6 471.1,401.0 471.5,400.3 472.2,399.9 472.3,399.1 473.2,398.9 473.3,398.4 473.8,399.2 473.7,399.7 474.3,400.7 474.6,401.1 474.5,402.2 474.7,402.6 475.0,403.6 475.2,404.1 475.7,405.0 475.7,405.6 476.7,405.3 477.1,404.8 477.9,405.0 478.8,404.4 479.4,404.4 480.1,404.8 480.5,405.6 480.7,406.0 481.0,406.8 481.8,407.2 482.3,408.1 482.6,408.4 482.9,409.1 483.5,409.4 484.0,410.2 484.3,410.9 485.1,411.3 485.4,411.3 486.2,412.1 486.7,412.4 487.1,413.1 488.3,413.4 488.8,414.2 489.6,414.1 490.1,414.7 491.2,414.8 491.9,414.6 492.7,413.9 493.3,413.6 494.0,413.0 494.5,412.9 495.1,412.3 496.3,412.3 496.7,411.7 497.7,411.9 498.1,411.6 498.6,411.8 499.5,411.3 500.6,411.6 501.2,411.1 501.7,411.3 503.0,411.0 503.4,411.1 504.0,410.5 504.5,410.4 505.3,409.7 506.1,409.5 506.8,408.9 507.7,408.8 508.1,408.3 508.6,408.1 508.9,407.4 509.1,407.0 509.7,406.1 510.2,405.7 510.1,404.6 510.5,404.2 510.7,403.2 511.3,403.9 512.3,403.8 513.0,404.3 513.8,404.4 514.4,403.9 514.8,403.3 515.2,403.0 515.6,402.2 516.3,402.1 517.0,401.4 517.2,401.3 518.2,400.6 518.3,400.3 519.0,400.0 519.9,400.1 520.5,399.3 521.6,399.3 522.1,399.1 523.2,399.1 524.0,398.9 524.3,399.2 525.5,398.6 526.3,398.9 527.1,398.3 527.5,398.2 528.5,397.7 529.3,397.7 530.1,397.2 530.5,397.2 531.4,396.9 532.5,397.3 533.1,397.2 533.5,397.2 534.4,397.0 535.0,397.3 536.0,397.0 536.5,397.3 537.5,397.0 538.2,397.1 538.3,396.3 539.0,395.9 539.7,395.1 539.8,394.8 540.3,394.1 541.2,393.8 541.7,393.3 542.5,393.5 543.2,393.4 544.0,393.9 544.9,393.4 545.9,393.8 546.7,393.3 546.8,392.7 546.7,391.8 546.8,391.7 547.0,390.5 546.9,390.7 546.6,389.1 546.5,388.6 546.4,386.8 546.5,386.7 546.8,385.1 546.5,385.3 546.4,384.3 546.9,384.3 546.5,382.8 546.8,383.6 546.9,381.8 546.7,382.4 546.9,380.6 547.0,379.9 546.8,378.3 546.4,377.6 546.9,376.4 547.0,376.7 546.6,375.5 546.9,375.6 547.0,374.6 546.8,374.4 546.7,373.6 546.9,373.3 547.6,372.8 548.4,373.5 549.7,373.0 550.2,373.1 550.6,371.9 550.6,371.6 550.8,370.6 551.2,370.4 551.0,369.1 551.3,368.5 550.8,366.6 550.7,366.0 550.8,364.9 551.2,365.0 551.1,363.7 551.3,364.3 551.3,362.6 551.6,362.9 551.6,361.6 551.6,362.1 551.7,360.3 551.6,360.0 552.2,358.6 551.7,358.2 552.1,357.1 551.9,356.8 552.0,355.8 552.3,355.3 552.7,353.7 552.7,353.4 553.3,352.1 553.4,352.9 553.3,353.0 553.4,353.8 553.9,354.0 554.2,355.3 553.9,354.7 554.4,356.2 554.5,356.5 554.7,357.8 554.9,358.4 555.2,359.6 555.4,359.9 556.0,361.3 556.0,361.7 556.1,362.9 555.9,363.2 556.0,364.6 556.1,365.0 556.4,366.1 556.3,366.0 556.4,367.8 556.6,367.5 556.7,369.2 556.8,369.0 556.8,370.7 556.7,369.9 556.6,371.2 556.7,371.2 556.9,372.4 556.5,372.5 557.0,373.8 557.1,374.1 556.9,375.4 557.5,375.9 557.4,376.9 557.5,377.5 557.5,378.4 557.8,378.7 558.0,380.4 558.2,380.5 557.9,382.7 558.2,382.6 558.7,384.2 558.5,384.1 558.8,385.5 558.9,385.3 558.5,386.2 559.1,385.5 559.9,385.6 560.1,383.9 560.7,384.0 560.7,381.6 561.4,381.5 561.9,380.3 562.1,380.3 562.8,379.8 562.9,380.4 563.0,380.9 563.7,382.5 563.9,383.1 564.1,385.5 564.5,385.3 564.7,386.4 564.8,385.9 564.8,387.1 564.7,387.3 565.3,388.5 565.2,388.9 566.0,390.1 566.5,389.8 566.7,390.8 567.5,390.2 567.6,391.2 568.3,391.5 568.9,392.5 569.3,392.6 570.3,393.8 570.8,393.7 571.2,394.8 571.9,394.6 572.2,395.9 573.0,395.9 573.0,396.7 573.4,397.0 573.9,398.0 573.8,397.8 574.3,399.4 574.9,399.7 575.4,401.1 575.3,400.5 575.7,401.5 576.1,401.9 576.6,401.1 577.0,399.9 577.2,400.2 577.6,399.1 578.1,399.7 578.4,398.6 579.2,398.8 579.5,397.4 579.7,397.3 579.9,395.6 580.0,395.2 580.5,394.1 580.7,394.7 581.1,395.2 581.1,396.2 581.3,396.3 581.9,398.3 581.8,398.3 582.2,399.9 582.8,399.8 583.1,401.4 582.8,401.4 583.2,402.2 583.4,402.6 583.9,403.4 584.1,402.4 584.9,401.9 585.2,400.7 585.6,400.9 586.5,399.6 586.9,399.9 587.4,398.6 587.0,398.0 587.3,396.9 587.7,397.3 587.8,395.9 588.1,396.2 587.6,394.4 588.3,394.1 588.3,392.4 588.0,392.4 588.4,391.7 588.6,391.4 588.8,390.4 589.1,391.0 589.3,389.8 589.1,389.6 589.0,388.1 589.0,388.3 589.6,386.4 589.2,386.1 589.6,384.7 589.3,384.2 589.6,383.1 589.7,384.3 590.0,384.8 590.3,386.1 590.3,386.5 590.4,387.7 590.1,387.4 590.6,388.7 590.6,388.4 590.4,390.2 590.6,389.8 590.5,391.1 590.9,391.3 591.1,392.6 591.0,393.1 590.8,394.1 591.5,394.5 591.6,395.8 591.7,395.7 591.7,397.5 592.3,397.6 592.7,399.3 592.9,399.5 592.7,400.2 593.7,400.3 594.8,401.6 595.4,400.1 596.0,400.8 596.3,399.8 596.9,400.7 597.5,400.6 597.5,401.4 598.1,402.1 598.9,403.8 599.0,404.1 598.9,405.4 599.5,405.8 599.6,407.1 600.0,407.4 599.8,408.8 600.0,408.8 600.3,410.2 600.6,410.4 600.7,412.0 600.7,411.5 600.9,413.3 600.8,413.2 601.3,414.5 601.3,414.4 601.5,415.3 601.5,415.5 602.3,416.0 602.7,416.2 603.8,417.9 604.6,417.4 605.2,418.0 605.8,418.5 607.0,420.3 607.5,419.1 607.9,419.4 608.8,419.5 609.8,420.2 610.4,418.6 610.7,418.7 611.5,418.5 612.8,419.2 613.4,418.2 613.7,417.9 613.8,418.3 614.1,419.8 613.9,420.0 614.6,421.5 614.2,420.9 614.4,422.8 614.4,422.0 614.4,423.4 614.5,423.8 614.9,425.1 614.6,425.5 615.2,426.9 615.1,426.9 615.2,427.8 615.3,427.3 615.5,428.0 616.0,428.3 616.6,430.0 616.8,430.7 617.8,432.1 618.1,432.2 618.1,433.6 618.4,433.4 619.2,435.1 619.7,434.1 619.7,435.6 620.6,435.8 620.8,435.0 621.1,433.2 621.4,433.9 622.2,432.8 622.2,433.0 623.3,431.7 623.7,432.5 624.6,431.1 625.1,430.9 625.5,430.6 626.5,432.2 627.0,431.3 627.9,431.7 629.0,431.3 629.8,432.6 630.4,432.3 630.7,433.1 631.2,433.2 631.7,435.4 632.0,435.6 632.2,438.1 632.6,437.3 632.4,438.4 632.9,438.3 632.8,439.3 633.5,439.7 633.4,440.9 633.9,440.6 634.3,441.6 634.6,441.6 634.5,443.7 635.1,443.7 635.3,444.9 635.5,443.9 635.8,444.0 635.9,442.2 636.2,442.7 637.1,441.0 637.1,441.1 637.1,439.3 637.6,439.7 637.6,438.2 638.0,438.0 638.2,436.9 638.8,436.4 639.5,435.4 639.6,436.3 640.1,435.1 640.8,435.8 641.0,434.2 641.3,433.9 641.7,432.4 641.9,431.9 642.6,432.2 642.8,433.4 643.8,433.2 644.3,434.8 644.7,434.2 645.1,434.8 645.9,435.1 646.4,436.7 647.0,436.6 647.5,437.8 648.1,437.2 648.2,437.7 648.6,436.5 648.9,436.1 649.3,433.8 649.4,433.3 649.3,432.1 649.6,432.7 650.2,431.7 650.8,432.0 650.6,430.8 651.1,430.3 651.3,429.4 651.6,429.5 652.0,428.1 652.2,427.5 652.5,425.7 652.8,425.8 653.1,424.1 653.3,424.2 653.8,423.4 653.9,423.1 654.2,421.7 654.6,421.6 654.5,419.5 654.9,419.4 655.5,417.8 656.1,418.3 656.1,417.1 656.6,417.3 657.3,416.7 657.0,416.2 657.8,414.8 658.0,415.1 658.1,413.4 658.1,413.3 658.8,411.6 659.2,411.9 659.3,410.8 659.7,410.9 660.0,411.2 660.1,412.3 659.9,412.4 660.2,414.7 660.4,414.8 660.9,417.4 660.7,416.7 660.9,417.9 660.6,417.5 660.8,418.6 660.8,418.9 661.0,419.9 661.3,419.9 661.5,421.6 661.8,421.8 661.9,423.8 661.9,423.7 662.5,425.8 662.1,424.9 662.2,425.8 662.6,426.0 662.5,425.6 663.0,424.7 663.3,424.9 663.7,423.7 664.0,424.5 664.0,422.6 664.0,422.4 664.4,420.6 664.4,421.0 664.7,419.2 665.0,419.7 665.0,418.2 665.5,418.0 665.5,416.5 666.0,415.8 666.0,414.7 666.4,413.9 666.5,413.0 666.7,412.9 667.2,411.9 667.4,412.1 667.3,410.7 667.7,411.1 667.9,410.0 668.3,410.2 668.3,408.1 668.5,407.6 668.7,406.0 669.0,405.9 669.2,405.2 669.8,405.0 669.6,404.4 669.9,404.4 670.3,403.1 670.2,402.6 670.0,400.7 670.1,400.2 670.6,398.6 670.9,398.9 670.9,397.7 671.0,398.5 671.2,396.1 671.1,396.3 671.6,394.3 671.6,394.7 672.0,393.3 672.1,393.5 672.0,392.2 672.6,392.6 672.4,391.2 672.5,390.9 672.8,389.9 673.1,391.1 673.3,390.8 673.6,391.8 673.5,391.4 673.7,392.4 674.2,392.8 674.8,394.9 674.7,395.4 674.7,396.5 674.8,396.9 675.2,397.9 675.4,398.1 674.9,398.9 675.0,399.0 675.4,400.6 675.5,400.9 675.2,402.4 675.5,402.0 675.4,404.2 675.6,403.7 675.7,405.3 675.7,404.8 675.3,406.5 675.5,406.4 675.8,407.8 675.5,407.5 676.0,408.9 675.5,409.2 676.1,410.5 675.9,411.0 676.0,412.2 676.1,411.1 676.1,411.1 676.3,409.8 676.1,409.6 676.5,408.2 676.0,408.3 676.2,406.6 676.2,406.8 676.3,404.5 676.1,405.0 676.4,403.4 676.5,404.3 676.6,402.6 676.6,403.2 676.6,401.3 676.5,400.9 676.6,399.5 676.8,398.9 676.9,397.7 676.6,397.5 676.6,396.1 676.7,396.1 676.6,395.2 677.2,394.9 676.9,393.5 677.0,393.3 676.9,391.5 677.2,391.6 677.0,389.5 677.2,389.8 677.3,388.0 677.7,388.5 677.6,387.4 677.8,387.5 678.1,386.5 678.1,386.4 678.1,385.5 678.2,385.8 678.8,384.0 679.0,384.1 678.5,382.4 679.1,381.9 679.3,380.7 679.1,381.4 679.7,380.2 679.5,381.0 679.7,379.0 680.0,379.0 680.0,377.8 680.4,377.7 680.4,375.8 680.6,375.1 680.5,373.5 680.6,373.1 680.6,372.5 680.7,372.4 681.3,373.2 681.0,374.8 681.3,375.0 681.5,376.7 681.9,376.8 681.9,378.2 681.6,377.2 681.7,378.5 681.6,377.2 682.1,378.6 681.8,378.8 682.3,381.2 682.3,381.8 682.9,383.5 682.9,383.1 682.7,384.1 682.8,384.1 683.0,385.1 683.0,385.5 683.0,386.4 683.3,386.9 683.5,388.1 684.0,388.7 684.3,390.2 684.5,390.7 684.3,392.7 684.4,392.1 684.3,392.9 684.8,392.0 684.6,393.4 684.8,393.7 685.0,394.9 685.7,394.0 685.7,394.1 686.1,392.7 686.6,393.3 687.1,392.1 687.3,393.1 687.4,390.7 688.1,391.0 688.2,389.1 688.2,388.9 689.0,387.6 689.4,388.8 689.6,388.3 690.0,389.5 690.5,389.7 690.7,391.3 691.4,391.4 691.8,391.4 691.9,390.4 692.4,390.5 692.5,389.2 693.3,389.7 693.5,387.5 693.8,387.9 693.8,386.1 694.5,385.6 694.6,384.3 695.2,383.9 695.4,383.1 696.1,383.0 696.8,382.1 697.4,383.2 698.6,382.7 698.9,383.3 700.1,382.6 699.8,382.2 699.9,380.9 700.2,381.1 700.2,378.8 699.7,379.3 699.8,376.4 699.8,376.3 700.0,374.6 700.2,374.5 700.1,372.6 699.8,372.9 700.1,371.6 700.6,373.4 700.5,372.1 700.7,372.6 700.7,370.7 700.6,370.6 700.8,369.5 700.9,368.6 701.3,367.1 701.0,367.7 701.0,366.1 701.4,366.9 701.6,364.9 701.7,365.8 702.0,363.9 702.1,365.2 702.1,362.7 702.2,362.9 702.2,360.8 702.0,360.8 702.0,358.9 702.3,358.9 702.3,357.8 702.2,358.6 702.6,358.5 702.6,360.8 702.4,360.8 702.7,362.8 702.8,362.4 702.8,363.8 702.7,362.9 703.1,365.0 703.2,365.4 703.3,367.1 703.6,367.3 703.6,368.7 703.9,368.9 703.8,370.5 703.9,370.3 704.0,371.8 704.4,372.1 704.7,374.0 704.8,374.8 704.9,377.0 705.2,376.1 705.4,378.0 704.9,377.5 704.9,378.2 705.0,377.9 705.0,378.6 705.3,377.5 705.6,377.3 705.5,375.9 705.5,375.7 705.6,373.1 705.5,372.8 705.5,370.3 705.7,371.3 705.9,368.1 705.8,369.3 706.1,368.5 706.1,370.2 706.5,369.3 706.9,369.8 706.6,367.8 706.6,368.0 706.6,366.0 706.7,365.6 707.0,364.5 706.9,364.6 706.9,363.2 707.4,363.0 707.2,361.4 707.3,361.1 707.2,358.5 707.3,359.2 707.1,357.1 707.2,357.6 707.3,355.6 707.3,356.1 707.9,354.7 707.8,355.3 708.1,354.1 708.0,354.4 708.3,353.1 708.4,352.5 708.2,351.6 708.7,351.4 708.4,349.9 708.8,350.0 709.1,348.8 709.0,349.1 708.9,346.6 709.3,347.5 709.5,346.2 709.6,346.8 709.7,345.0 709.4,345.5 710.0,343.5 710.1,343.8 709.6,341.2 709.6,340.9 709.8,339.6 710.1,338.8 710.4,337.6 710.3,337.3 710.5,335.7 710.3,336.1 710.6,335.0 710.6,336.5 711.2,335.4 711.7,337.0 711.7,335.3 711.5,335.8 711.6,333.0 712.1,334.2 712.0,332.1 712.1,332.8 712.0,330.2 712.2,330.5 711.7,327.9 711.9,327.2 712.0,324.6 711.6,324.0 711.8,322.9 712.2,323.1 712.1,322.1 712.5,322.0 712.3,320.5 712.6,320.6 712.9,318.7 712.4,319.1 712.6,317.4 712.6,318.1 713.1,316.2 713.0,317.4 713.3,314.8 713.3,316.4 713.7,314.1 713.4,314.9 713.4,312.6 713.8,311.9 713.5,310.3 714.1,310.0 713.9,309.4 713.8,309.2 713.9,308.0 714.2,308.8 714.3,306.4 714.2,305.9 714.0,303.4 714.3,303.0 714.1,301.4 714.5,301.6 714.3,299.5 714.9,300.6 714.6,299.3 715.3,300.4 715.2,299.5 715.4,299.8 715.8,298.6 715.3,299.7 715.9,299.8 715.3,300.9 715.5,301.1 716.0,302.6 715.8,302.7 715.5,304.8 715.7,304.1 715.9,305.5 715.8,305.1 715.7,306.1 715.9,305.7 715.9,308.2 716.1,307.3 716.0,309.7 715.5,308.3 715.5,310.0 715.8,308.9 715.6,310.8 715.4,310.9 715.7,312.8 715.7,312.1 716.2,315.2 715.9,314.5 716.0,317.2 716.3,317.4 716.6,319.4 716.7,319.0 716.6,320.8 716.3,320.6 716.8,322.2 716.5,321.4 716.6,322.2 716.2,322.1 716.5,322.8 716.5,323.4 716.6,324.5 716.5,324.7 716.8,325.7 716.7,326.5 716.5,328.2 716.5,328.4 717.2,330.7 717.1,330.5 717.3,332.2 717.0,331.4 716.9,333.7 717.0,333.1 717.4,335.5 717.1,334.8 717.7,337.2 717.3,335.6 717.3,337.0 717.0,335.8 717.0,336.7 717.2,336.9 717.3,338.6 717.5,338.3 717.3,340.6 717.2,340.4 717.7,342.2 717.1,341.6 717.4,343.0 717.6,343.0 717.9,345.4 718.1,345.9 717.9,347.7 717.8,347.5 717.8,348.4 717.8,348.3 717.7,349.1 718.2,349.7 718.1,349.4 718.5,348.7 718.5,348.5 718.4,347.6 718.7,348.6 719.0,347.0 718.9,348.1 719.0,345.5 719.0,344.8 718.7,342.5 718.6,342.0 719.3,339.9 719.0,341.1 719.3,339.5 719.7,339.9 719.5,338.8 719.6,339.2 719.8,337.3 719.9,337.4 719.9,336.1 719.9,335.7 719.9,334.9 720.2,335.2 720.6,333.4 721.0,333.8 720.8,331.4 721.1,330.8 720.9,329.4 721.3,329.9 721.5,327.7 721.6,328.3 721.5,325.7 721.7,325.9 721.9,323.4 721.7,324.1 722.1,323.1 722.6,324.4 722.6,323.6 722.9,323.9 723.0,322.1 723.1,321.3 723.1,319.4 723.2,318.9 722.9,316.4 723.5,317.0 723.5,315.0 723.2,315.0 723.6,313.4 723.8,315.6 724.4,314.2 724.2,315.6 724.5,312.7 724.9,313.2 724.5,311.1 725.1,311.5 725.1,310.4 725.4,310.2 725.6,309.0 725.5,308.9 725.8,307.3 726.0,307.3 725.9,305.4 726.0,304.9 726.5,303.3 726.7,304.7 727.4,303.2 727.4,304.8 727.5,302.2 727.4,301.5 727.5,298.9 728.0,298.4 728.1,297.0 728.6,297.9 729.0,296.8 729.1,296.6 729.0,295.7 729.2,295.6 729.5,294.4 730.2,295.5 730.2,292.7 730.3,292.3 730.2,290.0 730.3,290.0 730.4,287.9 730.9,289.0 731.1,287.3 731.5,288.5 731.6,286.6 732.2,287.9 732.3,286.3 732.3,286.4 732.9,285.2 732.9,286.5 733.0,286.6 733.1,288.0 733.4,287.8 732.8,288.9 733.0,288.5 733.0,289.2 733.3,288.8 732.9,290.6 733.1,289.8 733.2,291.5 733.4,290.8 733.4,293.2 733.5,292.6 733.7,295.1 733.6,295.9 734.0,298.4 734.1,297.8 734.2,300.6 734.2,299.1 733.9,300.8 734.2,300.3 734.1,301.6 733.9,300.9 734.3,302.6 734.6,302.4 734.4,303.8 734.5,304.4 734.5,305.9 734.7,306.3 734.8,308.2 735.1,307.8 735.1,309.4 734.7,309.4 734.9,310.9 735.0,310.8 735.6,313.3 735.9,313.4 735.8,315.7 735.7,315.2 735.8,317.1 736.0,316.5 736.5,318.6 736.1,317.6 736.3,320.2 736.6,319.1 736.2,321.3 736.5,320.2 736.5,321.1 736.1,320.3 736.1,321.5 736.3,321.8 736.7,323.0 736.3,323.4 736.4,323.4 736.7,322.2 737.1,321.7 736.6,319.7 736.9,319.7 737.1,318.0 736.9,317.8 737.3,315.9 737.2,316.8 737.5,314.8 737.3,315.2 737.8,313.8 737.4,314.6 737.5,313.2 738.1,314.2 738.2,313.5 738.7,314.2 738.5,312.8 738.8,312.8 738.8,311.2 738.9,311.2 739.0,308.6 738.5,308.4 738.3,305.3 738.6,304.9 738.5,303.5 738.5,303.6 738.8,302.6 738.9,302.9 739.1,301.4 739.3,301.5 739.7,300.2 739.6,300.0 739.4,298.7 739.7,298.4 740.0,297.2 740.2,297.1 740.0,295.5 740.4,296.0 740.2,294.2 740.5,294.8 740.5,292.5 740.6,293.2 740.5,291.3 740.7,292.1 740.7,290.7 741.0,290.4 741.4,289.3 741.1,288.9 741.6,287.8 741.8,287.6 741.5,286.5 742.1,286.3 742.0,285.2 742.4,285.1 742.5,284.1 742.6,283.8 742.3,282.6 742.8,282.3 743.0,281.3 742.7,280.8 742.8,279.8 743.3,279.4 743.2,278.5 743.5,278.1 743.5,277.1 743.4,276.5 743.7,275.7 743.6,275.1 743.9,274.2 743.9,273.6 743.7,272.6 744.1,272.2 744.4,271.2 744.0,270.9 744.2,269.8 744.6,269.6 744.2,268.7 744.6,268.3 744.7,267.3 744.7,266.8 744.5,265.7 744.6,265.1 744.9,264.0 745.1,263.6 745.0,262.7 744.8,262.1 745.1,261.2 744.8,260.7 744.9,259.9 745.0,259.3 745.5,258.5 745.5,258.0 745.3,257.1 745.5,256.6 745.6,255.7 745.5,255.3 745.7,254.2 746.0,253.9 745.5,252.9 745.8,252.5 746.1,251.6 745.7,251.3 746.3,250.3 746.2,250.0 746.1,248.9 746.3,248.6 746.1,247.4 746.2,247.1 746.3,245.9 746.7,245.5 746.6,244.7 746.5,244.3 746.3,243.1 746.7,242.6 746.6,241.5 746.4,240.9 747.0,240.0 746.8,239.8 747.0,238.8 746.9,238.5 746.9,237.6 747.3,237.0 747.0,236.2 747.0,235.8 746.9,234.8 747.2,234.2 747.5,233.2 747.5,232.6 747.7,231.9 747.4,231.2 747.1,230.4 747.7,229.9 747.4,228.9 747.6,228.5 747.6,227.7 747.4,227.4 747.4,226.4 747.3,226.0 747.5,225.1 747.4,224.7 747.4,223.4 747.5,222.9 747.3,221.7 747.4,221.1 747.6,220.2 747.9,220.0 747.7,219.2 748.0,218.8 747.6,217.7 747.5,217.2 747.6,216.2 747.6,215.7 747.7,214.9 747.6,214.4 747.8,213.6 747.9,213.0 747.6,212.2 748.0,211.7 747.8,210.7 747.7,210.4 747.9,209.2 747.7,208.8 747.9,207.7 748.0,207.2 748.0,206.3 747.8,205.8 747.7,204.7 747.5,204.3 747.8,203.4 748.0,203.3 748.0,202.3 747.7,202.1 747.8,201.0 747.9,200.6 747.9,199.4 747.9,198.9 747.9,197.9 748.0,197.7 748.1,196.7 748.2,196.4 747.9,195.3 747.9,194.8 748.1,193.9 748.2,193.3 747.8,192.3 747.8,191.9 747.6,190.9 747.7,190.5 748.1,189.6 748.1,189.1 748.5,188.6 749.2,188.6 749.3,187.6 749.8,187.3 750.6,186.5 750.6,185.9 750.4,185.0 750.5,184.4 750.4,183.5 750.5,183.1 750.7,182.1 750.9,181.6 750.6,180.7 750.7,180.2 750.9,179.2 750.7,178.8 751.2,177.9 751.1,177.6 751.1,176.4 750.9,176.0 751.1,174.9 751.4,174.6 751.3,173.7 751.2,173.2 751.6,172.3 751.3,171.8 751.5,170.9 751.6,170.2 751.2,169.3 751.3,168.7 751.4,167.8 751.6,167.3 751.7,166.4 751.8,165.8 751.8,165.0 751.8,164.4 751.4,163.6 751.7,163.0 751.8,162.2 751.6,161.7 751.9,160.8 751.9,160.3 751.6,159.4 751.7,158.8 751.6,157.9 751.6,157.6 752.0,156.6 752.0,156.2 751.5,155.2 752.0,154.7 751.7,153.9 752.0,153.4 751.9,152.4 752.1,152.0 751.9,151.0 751.7,150.8 751.9,149.7 751.6,149.3 751.6,148.2 751.7,147.8 751.7,146.7 751.8,146.2 751.7,145.1 751.6,144.9 751.8,143.8 752.0,143.3 751.8,142.5 751.7,142.1 751.9,141.0 752.0,140.6 751.7,139.6 752.0,139.3 752.2,138.3 752.0,138.0 752.2,136.9 752.3,136.3 751.8,135.3 752.0,134.8 752.0,133.7 751.8,133.4 752.1,132.3 751.9,132.0 752.0,131.0 752.0,130.6 751.8,129.4 752.2,129.0 751.9,128.2 752.1,127.8 752.0,126.9 752.3,126.5 752.2,125.6 752.1,125.1 752.2,124.3 752.2,123.8 752.3,122.8 751.9,122.2 752.2,121.2 752.4,120.7 751.9,119.8 751.9,119.2 752.1,118.4 752.4,117.7 752.1,117.0 752.3,116.4 753.0,116.3 752.9,117.1 752.8,117.6 752.5,118.5 752.8,119.0 752.8,119.9 752.5,120.5 752.6,121.3 753.0,121.9 752.6,122.7 752.8,123.2 752.7,124.4 752.8,124.8 753.1,125.9 752.8,126.2 752.8,127.1 752.9,127.4 752.9,128.2 752.8,128.7 752.7,129.7 752.6,130.1 752.7,131.2 753.0,131.5 752.7,132.5 752.6,132.7 752.8,133.9 752.7,134.3 752.7,135.4 753.1,135.9 752.9,137.0 752.9,137.4 752.8,138.6 753.2,139.0 752.7,140.0 752.8,140.1 753.0,141.1 753.1,141.5 753.1,142.4 752.7,142.7 753.2,143.6 752.8,144.0 753.3,145.1 752.9,145.6 752.8,146.5 753.0,147.0 753.3,148.0 753.1,148.6 752.9,149.4 753.0,150.0 752.9,151.0 753.4,151.5 753.1,152.4 753.4,152.9 753.4,153.8 753.1,154.3 753.5,155.0 753.7,154.1 753.6,153.4 753.6,152.4 753.7,152.2 754.0,151.1 754.4,150.7 754.5,149.9 754.8,149.5 754.5,150.1 754.6,150.9 754.7,151.4 754.4,152.3 754.4,152.8 754.5,153.7 754.5,154.2 754.9,155.1 754.5,155.6 754.9,156.5 755.0,157.1 754.7,158.0 754.7,158.6 754.6,159.6 755.0,160.0 755.2,161.0 754.8,161.4 754.8,162.2 754.9,162.7 755.1,163.5 754.6,163.9 754.8,164.9 755.2,165.3 754.8,166.3 754.9,166.6 754.7,167.7 755.0,168.1 754.8,169.2 755.3,169.5 755.0,170.5 755.0,170.9 755.4,171.8 755.0,172.2 755.2,173.2 755.3,173.7 755.0,175.0 755.1,175.3 755.5,176.5 755.4,176.7 755.2,177.9 755.1,178.0 755.6,179.0 755.5,179.4 755.4,180.5 755.5,180.8 755.5,182.0 755.2,182.4 755.6,183.5 755.3,183.9 755.2,185.0 755.6,185.3 755.5,186.2 755.5,186.5 755.7,187.6 755.6,187.9 755.5,188.8 755.3,189.2 755.8,190.2 755.4,190.7 755.4,191.7 755.8,192.2 755.4,193.3 755.8,193.7 755.5,194.6 755.8,195.2 755.5,196.0 755.5,196.5 755.5,197.3 755.5,197.8 755.7,198.6 755.6,199.2 755.5,200.0 755.5,200.6 755.6,201.5 755.6,202.1 756.2,203.0 755.6,203.6 755.7,204.5 755.7,204.9 756.1,205.9 755.9,206.3 755.9,207.2 756.0,207.6 755.9,208.6 756.1,209.0 756.0,209.8 756.3,210.3 756.0,211.2 756.1,211.6 756.1,212.5 755.9,213.1 755.9,214.4 755.9,214.7 756.3,216.1 756.3,216.3 756.2,217.4 756.2,217.8 756.3,218.8 756.6,218.9 756.3,219.9 756.3,220.3 756.5,221.3 756.2,221.7 756.6,222.7 756.1,223.0 756.3,224.1 756.6,224.6 756.2,225.6 756.3,226.0 756.4,227.1 756.5,227.3 756.6,228.4 756.7,228.7 756.6,229.7 756.6,230.1 756.6,231.2 756.8,231.7 756.5,232.9 756.4,233.3 756.7,234.1 756.3,234.5 756.7,235.5 756.4,235.9 756.4,236.8 756.8,237.2 756.7,238.1 756.8,238.6 756.7,239.4 756.5,240.0 756.7,240.8 757.0,241.4 756.5,242.3 756.9,242.9 756.8,242.4 757.0,241.4 757.1,240.9 757.0,240.0 757.1,239.4 757.1,238.6 757.0,238.2 757.4,237.2 757.1,236.9 757.5,235.8 757.7,235.6 757.7,234.3 757.8,234.0 757.6,233.0 757.6,232.5 757.6,231.5 757.6,230.9 757.8,229.9 758.0,229.4 758.2,228.3 757.7,227.8 758.3,227.0 757.9,226.3 757.9,225.5 758.4,225.0 757.9,224.2 758.5,223.6 758.4,222.8 758.3,222.2 758.7,221.4 758.4,220.8 758.7,219.9 758.4,219.3 758.4,218.5 758.9,218.2 758.8,217.3 758.9,217.0 758.8,215.9 758.9,215.4 759.1,214.5 758.9,214.1 759.0,213.0 758.9,212.6 759.2,211.6 759.2,211.4 759.1,210.4 759.3,210.1 759.4,209.0 759.6,208.7 759.5,207.6 759.5,207.2 759.6,206.0 759.4,205.3 759.7,204.3 759.6,204.1 759.8,203.1 759.5,202.9 759.9,201.7 759.8,201.2 759.6,200.3 759.9,199.8 759.7,198.9 759.9,198.5 760.2,197.7 759.9,197.3 760.3,196.2 759.9,195.6 759.9,194.6 760.3,194.0 760.1,193.3 760.0,192.9 760.6,192.1 760.3,191.6 760.7,190.7 760.6,190.1 760.8,189.3 760.6,188.7 760.3,187.9 760.6,187.4 760.6,186.5 760.5,186.0 760.7,184.9 760.5,184.4 760.4,183.4 760.6,182.7 760.9,181.8 760.7,181.3 761.0,180.5 761.0,180.0 760.7,179.1 760.9,178.7 761.0,177.8 760.8,177.6 761.0,176.4 761.1,175.9 761.1,174.6 760.8,174.1 760.9,173.1 761.1,172.8 761.1,171.9 761.0,171.7 761.3,170.6 761.2,170.2 761.2,169.1 760.9,168.7 761.2,167.9 761.0,167.4 761.2,166.5 761.2,166.1 761.1,165.1 760.9,164.5 761.3,163.6 761.4,163.0 761.0,162.2 761.5,161.6 761.4,162.3 761.1,163.1 761.5,163.6 761.4,164.4 761.6,165.0 761.3,165.8 761.6,166.3 761.4,167.4 761.4,167.9 761.3,168.9 761.2,169.4 761.7,170.4 761.7,170.6 761.4,171.7 761.2,172.1 761.4,173.3 761.7,173.5 761.9,174.9 761.8,175.0 761.4,175.9 761.4,176.0 761.7,176.9 761.6,177.5 761.7,178.6 761.7,179.3 761.6,180.3 761.6,180.7 761.6,181.5 761.7,182.1 761.8,182.8 761.7,183.5 761.9,184.3 761.8,184.9 761.7,185.8 761.5,186.4 761.8,187.2 761.8,187.8 761.7,188.7 761.9,189.2 762.0,190.0 762.0,190.4 762.1,191.4 761.8,191.9 762.3,193.0 762.3,193.4 762.5,194.8 762.2,195.0 762.0,195.9 762.2,196.2 762.5,197.2 762.5,197.7 762.5,198.6 762.2,199.2 762.7,200.0 762.8,200.6 762.5,201.4 762.7,201.9 762.6,202.7 763.2,203.2 762.9,204.2 763.1,204.7 763.2,205.7 763.3,206.1 763.2,207.2 763.5,207.6 763.8,208.8 763.6,209.1 763.9,210.2 763.6,210.7 763.7,211.7 764.1,212.1 763.8,213.0 763.8,213.4 764.4,214.3 764.4,215.0 764.1,215.8 764.2,216.4 764.7,217.3 764.5,217.8 764.5,218.5 764.7,219.0 764.7,219.8 764.5,220.4 764.5,221.4 764.7,221.8 765.1,222.8 764.7,223.3 764.7,224.2 764.9,224.7 765.0,225.8 765.0,226.1 765.1,227.4 765.2,227.7 765.2,228.9 765.1,229.2 765.1,230.2 765.6,230.7 765.5,231.6 765.3,231.9 765.7,232.9 765.3,233.3 765.3,234.4 765.5,234.6 765.3,235.5 765.7,235.8 765.8,236.7 765.9,237.1 766.0,238.2 765.7,238.7 765.8,239.7 765.8,240.3 765.7,241.2 766.3,241.7 765.9,242.6 765.9,243.2 766.4,243.9 766.1,244.5 766.4,245.3 766.6,245.9 766.6,246.7 766.4,247.3 766.4,248.3 766.7,248.7 766.9,249.7 767.0,250.1 766.8,251.0 767.0,251.4 767.3,252.2 767.0,252.5 767.0,253.5 767.3,254.0 767.3,255.3 767.7,255.8 767.9,257.0 767.5,257.3 768.0,258.2 768.1,258.7 768.1,259.4 768.3,260.0 767.9,260.7 768.1,261.3 767.9,262.1 768.0,262.7 767.9,263.6 768.0,264.2 768.3,265.0 767.8,265.5 768.0,266.4 768.0,266.9 768.2,267.8 767.8,268.3 768.0,269.1 768.2,269.7 768.0,270.5 767.9,271.1 767.9,272.0 768.0,272.5 767.9,273.5 768.2,274.0 768.3,274.9 767.9,275.3 767.8,276.2 767.8,276.5 768.1,277.6 768.1,278.0 768.1,279.0 767.9,279.4 768.1,280.4 768.2,280.8 768.4,281.8 768.4,282.3 768.3,283.2 768.0,283.8 768.4,284.8 768.2,285.0 768.2,286.1 768.5,286.3 768.0,287.3 768.2,287.6 768.4,288.8 768.3,289.0 768.3,290.2 768.4,290.6 768.0,291.7 768.5,292.2 768.4,293.3 768.4,293.5 768.5,294.6 768.3,294.9 768.4,295.7 768.0,296.2 768.3,297.4 768.1,297.8 768.4,299.1 768.2,299.4 768.3,300.2 768.0,300.6 768.2,301.6 768.4,301.9 768.3,303.0 768.4,303.4 768.2,304.5 768.1,304.8 768.3,305.7 768.4,306.0 768.1,306.9 768.4,307.4 768.1,308.6 768.4,309.0 768.1,310.1 768.1,310.4 768.6,311.3 768.4,311.6 768.1,312.6 768.3,313.0 768.0,313.9 768.6,314.5 768.3,315.4 768.5,315.9 768.5,316.8 768.2,317.3 768.4,318.2 768.4,318.8 768.2,319.6 768.6,320.2 768.3,321.1 768.3,320.3 768.6,319.7 768.5,318.9 768.7,318.3 768.8,317.4 768.8,316.8 768.7,315.9 768.5,315.3 768.5,314.4 768.5,313.9 768.6,313.1 769.0,312.7 769.0,311.7 768.7,311.3 769.2,310.5 769.0,310.0 768.9,309.1 769.2,308.6 769.4,307.6 769.3,307.1 769.3,306.1 769.5,305.5 769.4,304.4 768.9,303.9 769.0,302.8 769.1,302.4 769.4,301.5 769.5,301.2 769.2,300.0 769.7,299.8 769.2,298.7 769.4,298.4 769.4,297.3 769.4,297.0 769.4,295.9 769.8,295.5 769.6,294.5 769.6,294.2 770.0,293.3 769.6,292.8 769.6,291.8 770.2,291.3 770.0,290.4 769.9,289.9 770.1,289.0 770.0,288.6 770.1,287.9 770.1,287.3 770.4,286.4 770.6,285.8 770.6,284.9 770.2,284.3 770.5,283.5 770.4,283.0 770.6,282.1 770.2,281.7 770.8,280.7 770.8,280.2 770.9,279.3 770.9,278.9 770.6,278.0 770.7,277.6 771.1,276.5 770.7,276.2 771.1,275.2 770.7,275.0 771.3,276.0 771.8,276.4 771.2,273.6 771.6,273.3 771.4,270.3 771.3,269.8 771.2,268.0 771.3,268.4 771.4,266.6 771.5,267.0 771.5,265.7 771.3,265.7 771.1,264.6 771.7,264.7 771.5,263.0 771.3,262.5 771.9,261.3 771.8,260.9 771.8,260.3 772.1,260.5 772.3,260.7 772.7,262.5 773.8,262.8 774.0,264.6 774.5,265.0 775.2,267.0 775.8,267.8 776.7,270.0 776.9,269.4 777.2,269.0 777.3,269.7 776.8,270.9 777.3,271.2 777.0,272.6 777.4,272.6 777.5,274.2 777.1,274.1 777.5,275.1 777.5,274.8 777.2,276.8 777.1,276.3 777.0,277.9 776.8,276.5 776.6,277.2 776.7,275.8 776.3,276.5 776.7,276.9 776.6,279.0 777.0,279.6 776.9,281.4 777.2,282.0 776.9,283.1 777.2,283.7 777.2,284.8 777.0,285.4 777.3,286.6 777.7,287.3 777.5,289.4 777.4,288.5 777.3,289.2 777.3,287.8 776.6,288.5 776.9,288.7 777.1,290.9 777.2,290.9 777.7,293.4 777.7,293.4 777.3,295.3 777.5,295.4 777.9,296.9 777.8,297.5 777.7,298.5 778.1,298.0 777.9,298.2 778.4,297.2 778.8,297.2 778.9,296.5 778.7,296.8 778.7,294.7 778.9,294.9 779.1,292.9 779.3,292.8 779.2,290.3 778.9,289.2 778.9,287.2 779.0,286.8 779.5,286.2 779.3,287.2 779.8,286.5 780.2,286.5 780.2,285.5 780.0,285.6 780.5,284.8 781.0,285.5 781.1,283.7 781.0,283.5 781.1,281.2 781.1,281.1 780.9,278.8 781.2,279.0 781.2,277.2 781.1,276.9 781.3,275.8 781.6,275.8 781.7,275.0 782.2,274.8 781.9,274.7 782.3,275.1 782.3,274.2 782.0,274.8 782.4,276.1 783.0,278.5 783.0,279.5 783.2,281.4 783.4,281.5 783.7,283.1 784.3,284.0 784.5,286.5 784.7,286.3 784.5,286.7 784.7,285.7 784.3,286.7 784.8,286.9 784.6,288.7 785.0,288.9 785.4,290.2 785.3,290.4 785.2,291.1 785.4,292.0 785.7,293.2 785.8,293.2 785.4,293.6 785.6,292.8 785.6,293.3 785.7,294.4 785.9,296.9 786.5,298.4 786.6,301.2 786.6,300.9 786.8,301.5 786.4,301.2 786.2,302.0 786.1,300.8 786.3,301.8 786.0,300.7 786.0,301.7 786.4,301.6 786.3,303.1 786.2,303.2 786.4,304.4 786.7,305.0 786.6,306.7 787.0,307.4 786.8,308.6 787.2,309.1 787.1,310.3 787.1,310.8 786.9,312.4 787.3,312.7 787.5,314.0 787.4,314.3 787.3,316.2 787.3,315.5 787.5,316.4 787.1,316.0 787.2,316.9 787.7,317.6 787.5,320.3 788.2,321.6 788.2,324.0 788.2,323.0 787.6,323.2 787.7,322.1 787.7,322.4 787.7,322.3 787.4,324.4 787.6,324.4 787.7,326.4 787.6,325.1 787.5,326.3 787.7,325.9 787.4,326.6 788.0,328.0 788.2,330.9 788.5,332.0 788.6,334.5 788.2,333.5 788.6,333.8 788.3,333.0 788.1,333.3 788.3,334.4 788.1,336.2 788.3,337.0 788.7,338.4 788.6,337.3 788.5,337.0 788.7,335.5 788.9,335.1 788.8,333.9 789.3,333.9 789.5,332.3 789.5,332.5 789.7,331.0 789.6,331.3 789.6,329.5 789.5,329.9 789.8,327.5 789.6,327.0 789.8,325.4 789.8,324.9 790.2,324.7 790.6,324.8 790.1,324.0 790.6,325.4 790.8,326.0 790.4,327.3 791.0,328.0 791.0,329.5 790.6,329.6 790.8,330.9 790.7,330.7 790.7,332.1 791.0,331.6 791.3,333.2 791.1,332.7 791.0,333.8 791.0,332.6 790.8,333.3 790.6,332.4 790.6,333.0 790.6,334.0 791.0,337.2 791.3,338.5 791.4,341.3 791.4,339.9 791.2,340.5 791.3,339.1 790.7,340.1 791.1,341.2 791.6,343.7 791.9,344.6 791.6,347.1 791.8,345.9 791.6,346.0 791.4,345.3 791.3,345.4 791.3,345.9 791.2,347.7 791.8,348.3 791.7,350.1 791.7,350.5 792.0,351.8 791.7,352.3 791.6,353.3 791.9,353.2 792.0,353.8 791.7,352.4 792.0,351.6 791.6,350.8 792.0,350.6 792.1,349.9 792.2,350.0 791.8,348.3 791.8,347.4 791.9,345.2 791.6,344.5 791.7,343.2 791.4,342.9 791.7,341.1 791.7,340.9 791.7,340.0 791.6,340.3 792.1,338.4 792.1,339.2 792.3,339.0 792.5,341.0 793.0,340.5 793.3,342.4 793.5,340.7 793.4,340.9 793.2,339.2 793.2,339.6 793.3,337.0 793.1,337.1 793.0,334.3 792.8,334.4 792.9,331.8 793.0,331.7 792.9,329.2 792.6,328.9 793.0,328.3 792.9,328.6 793.0,328.0 793.0,328.4 793.3,326.9 793.7,327.0 793.5,325.5 793.7,325.5 793.6,323.9 793.4,323.2 793.5,321.9 793.3,321.2 793.2,320.3 793.2,320.0 793.8,319.2 793.4,319.0 793.7,318.3 793.8,318.3 794.4,317.6 794.4,317.7 794.2,315.5 794.1,314.3 793.5,310.8 793.7,309.5 793.6,308.5 793.6,308.5 793.8,307.6 793.8,307.7 794.1,307.2 794.2,307.9 794.6,306.8 795.0,307.1 794.6,305.4 795.0,304.7 794.8,302.9 795.0,302.8 795.2,301.8 795.3,302.0 795.5,301.2 795.1,301.1 795.8,300.4 795.4,301.6 795.8,301.8 796.0,303.6 795.9,302.6 796.0,303.9 796.1,303.0 796.4,304.2 796.3,305.1 796.9,306.8 797.2,307.7 797.2,309.0 797.3,309.0 797.0,309.9 797.6,309.2 797.4,310.6 797.4,310.9 797.8,312.7 797.9,313.2 798.4,315.6 798.3,314.9 798.8,316.1 798.5,316.3 798.8,317.4 799.0,317.9 799.2,319.2 799.1,319.7 798.8,321.1 798.8,321.0 798.7,321.5 798.9,320.8 798.6,321.2 798.8,322.0 798.8,324.2 799.1,325.3 799.2,327.6 799.3,326.8 799.2,327.4 798.8,326.1 798.4,326.6 798.8,328.0 798.9,330.9 799.8,332.9 799.7,335.8 800.0,335.0 799.5,335.9 799.5,334.7 799.4,335.6 799.5,335.1 799.0,336.9 799.5,336.0 799.4,337.5 799.2,337.2 799.4,338.9 799.4,338.5 799.1,340.3 799.2,340.5 799.6,342.0 799.5,342.2 799.6,344.1 799.3,344.1 799.4,345.5 799.3,345.6 799.6,346.7 799.6,347.0 799.5,348.1 799.3,348.4 799.5,349.3 799.3,348.6 799.3,348.3 799.5,347.5 799.6,347.2 799.7,346.0 799.8,345.3 799.7,343.6 799.8,343.4 800.0,342.5 800.2,343.7 800.5,343.5 801.2,344.3 800.6,342.4 800.7,342.2 800.7,340.6 800.8,340.1 800.8,338.4 800.9,338.8 801.1,336.7 801.0,336.7 801.0,334.4 800.6,333.9 801.0,332.0 800.6,331.5 800.8,330.2 801.0,329.9 801.2,328.8 801.2,328.7 801.7,327.1 801.8,327.6 801.9,325.9 802.3,326.9 802.7,325.3 802.5,326.0 802.7,324.8 802.7,324.5 803.0,322.4 803.4,323.6 803.6,323.8 803.2,324.5 803.7,324.3 803.7,325.9 803.7,326.2 804.2,327.7 804.0,327.1 804.2,328.5 804.1,328.3 804.7,329.9 805.0,330.3 804.6,331.9 805.0,332.4 805.1,334.1 805.2,334.1 805.3,335.0 805.4,334.2 805.4,335.0 805.0,334.3 805.1,335.3 804.9,334.0 804.8,335.2 805.3,336.8 805.5,339.4 805.8,340.6 806.4,343.1 806.6,343.4 806.5,344.9 806.5,344.9 806.4,345.6 806.7,345.6 806.3,346.6 806.5,347.0 806.4,348.0 806.6,348.5 806.8,349.6 807.0,349.6 806.5,350.8 806.7,351.1 807.0,353.0 807.1,353.2 806.9,355.0 807.0,354.2 807.0,355.0 806.9,354.3 806.9,354.8 807.1,354.9 807.1,357.1 807.0,357.3 807.2,360.0 806.9,358.5 807.2,359.2 806.7,358.1 806.5,358.2 806.7,358.1 806.5,360.4 807.0,360.3 807.1,362.0 806.8,362.6 807.2,364.8 807.2,364.9 807.5,367.0 807.6,367.3 807.3,368.7 807.3,368.7 807.4,370.5 807.9,370.1 807.7,371.6 807.4,371.6 807.7,372.6 807.8,372.6 807.7,373.6 807.7,373.9 808.2,374.9 807.6,374.0 808.1,374.0 808.1,373.5 808.5,373.9 808.6,372.6 808.2,372.3 808.1,370.8 808.3,370.3 808.6,368.6 808.5,368.2 808.1,366.2 808.0,365.8 808.2,364.4 808.6,364.2 808.7,363.0 808.6,363.5 808.5,361.5 808.6,362.2 808.8,360.6 809.0,361.2 808.8,359.0 809.1,359.1 808.9,357.2 808.7,357.2 808.8,355.4 809.2,355.1 808.9,353.5 809.2,353.7 809.2,353.6 809.4,354.4 809.8,354.1 810.2,354.7 810.1,353.5 810.0,352.9 809.8,351.6 810.1,351.1 810.4,350.2 810.1,349.9 810.1,348.6 810.4,348.1 810.4,347.3 810.7,347.5 810.9,346.7 811.2,347.3 811.1,344.8 810.9,344.1 811.1,342.2 810.5,341.5 810.7,340.4 811.2,341.2 811.4,340.8 811.8,341.7 811.4,338.7 811.3,337.8 811.5,335.3 811.1,334.0 811.6,334.0 811.5,334.6 811.8,334.1 811.7,334.5 812.1,332.7 811.9,332.3 811.9,331.1 812.3,330.5 811.9,329.5 812.3,331.1 812.6,331.9 812.6,334.0 812.7,333.1 812.7,333.2 812.2,331.5 812.1,331.9 812.8,332.5 813.1,336.0 813.4,337.1 813.7,339.6 813.1,338.4 813.5,338.6 813.1,338.5 813.4,339.3 813.3,339.7 813.8,340.9 813.8,341.4 814.1,343.2 814.2,344.3 814.3,346.7 815.0,346.9 814.8,349.5 814.7,347.8 814.3,347.8 814.2,345.2 813.8,345.4 814.0,345.7 814.8,347.9 814.7,348.5 815.0,350.6 815.2,351.2 815.5,352.5 815.5,353.2 815.8,353.4 816.6,352.7 817.5,354.1 817.8,353.5 818.7,355.4 819.5,355.8 819.8,356.4 819.9,356.5 819.4,356.9 819.8,358.1 819.8,360.1 820.4,361.2 820.4,363.9 820.4,363.9 820.5,365.6 820.5,365.5 820.8,366.6 820.9,365.8 820.5,366.7 820.4,366.0 820.3,366.7 820.2,366.7 820.2,367.8 820.3,367.7 820.3,369.1 820.7,369.5 820.7,371.7 821.0,372.0 821.3,373.9 820.7,372.8 820.6,373.4 821.0,372.9 820.8,373.4 820.9,373.8 821.3,375.4 821.4,375.8 821.0,377.4 821.3,378.5 821.5,380.0 821.4,380.9 822.0,382.9 822.0,382.8 821.8,383.7 822.0,383.1 822.0,383.4 821.7,383.5 822.1,385.3 822.1,385.8 822.4,387.3 822.7,387.9 822.6,391.0 822.9,391.3 823.4,393.6 823.0,393.8 823.4,395.6 823.2,395.5 823.2,396.5 823.2,395.3 823.2,396.0 822.9,395.2 822.9,395.7 823.0,395.6 823.4,396.6 822.9,396.8 823.4,397.7 823.4,398.2 823.4,399.5 823.5,398.3 823.8,398.0 823.9,397.3 824.0,397.8 824.3,397.5 824.6,399.1 824.6,397.3 825.0,398.0 825.0,396.3 825.0,396.6 824.8,393.1 824.8,392.5 824.5,389.2 824.6,388.5 824.5,387.7 825.3,389.0 825.2,388.6 825.6,388.9 825.3,387.1 825.6,386.1 825.8,384.9 825.5,383.9 825.4,382.9 825.5,382.5 825.8,381.5 826.1,382.0 826.1,379.3 826.0,379.4 826.0,377.2 826.1,377.0 826.6,376.8 827.0,377.6 826.9,376.8 827.6,379.3 828.2,380.3 828.6,382.1 828.6,382.7 828.8,384.1 828.7,382.1 828.7,382.0 829.3,381.8 828.8,381.5 829.0,381.6 829.6,383.8 830.1,384.7 829.9,386.6 830.3,385.7 830.2,386.7 830.4,386.9 830.7,386.0 830.6,385.2 830.6,385.7 831.4,385.1 831.7,386.9 831.0,383.9 831.4,382.5 830.9,379.1 830.6,377.8 830.7,376.3 831.1,376.6 831.1,375.2 831.1,375.7 831.2,375.8 831.6,376.4 831.6,375.7 832.0,375.6 832.4,374.6 832.2,374.1 832.5,371.9 832.1,371.5 832.3,371.0 832.9,371.8 833.0,371.3 833.5,372.7 833.9,371.3 833.9,370.8 833.6,368.9 833.6,368.7 833.4,366.8 833.5,365.9 834.5,366.4 835.4,367.2 836.0,365.6 836.7,365.6 837.3,365.1 837.5,365.6 837.6,366.2 837.1,367.6 837.6,368.4 837.4,370.5 838.0,371.0 837.7,373.0 838.1,373.5 838.2,375.8 838.4,374.5 837.9,375.8 837.7,374.5 837.7,375.3 837.3,373.8 837.7,375.0 837.4,374.0 837.5,375.2 837.2,375.4 837.4,377.3 837.9,377.8 838.1,379.4 838.0,379.7 838.1,381.4 837.9,381.7 838.1,383.2 838.0,384.0 838.1,385.1 838.1,385.9 838.5,387.5 838.2,387.4 838.1,388.0 838.1,387.2 838.0,387.9 838.1,387.6 838.3,388.9 838.2,388.3 837.9,390.1 838.1,390.3 838.0,391.9 838.5,391.7 838.7,394.0 838.5,394.8 838.9,396.9 838.7,397.4 838.9,399.1 839.2,399.2 839.2,400.1 839.3,400.8 839.2,402.2 839.5,402.1 839.1,403.2 839.2,402.5 839.2,403.5 839.6,403.9 839.6,405.6 839.5,406.0 839.9,408.6 840.3,408.4 840.2,410.4 840.3,411.1 840.5,412.9 840.2,411.6 840.1,413.0 840.2,412.2 840.6,413.0 840.3,412.5 840.6,413.3 840.5,413.7 840.5,414.6 840.7,414.6 840.6,415.8 840.5,415.7 840.3,417.0 841.0,418.2 841.1,421.1 841.4,421.6 842.0,424.6 841.6,423.7 841.8,424.7 841.7,424.1 841.7,425.1 841.6,424.6 841.8,425.5 842.0,424.1 841.7,423.2 841.5,422.3 841.9,422.5 841.8,421.9 842.1,422.3 842.2,420.1 841.8,419.0 841.5,416.3 841.8,415.7 842.1,415.6 842.7,417.5 843.0,417.8 842.9,419.3 842.7,416.7 842.9,416.0 842.8,413.2 842.3,412.6 842.7,411.3 842.8,411.3 842.6,409.9 842.9,409.6 842.8,408.7 843.0,408.2 843.0,407.2 843.4,406.8 843.1,405.3 843.1,404.3 843.1,402.1 842.6,401.3 842.9,400.4 843.4,401.4 843.3,400.9 843.6,402.3 843.5,400.1 843.9,399.6 843.6,397.1 843.4,396.9 843.6,395.4 843.7,395.4 843.8,394.6 843.8,394.4 844.5,394.0 844.4,394.2 844.4,393.4 845.2,395.1 845.9,393.8 846.3,393.1 846.9,391.6 847.9,392.6 847.8,392.9 847.8,393.9 847.8,394.1 847.8,395.4 848.0,395.9 848.2,398.2 848.5,398.7 848.6,401.6 848.4,400.3 848.5,400.7 848.2,399.9 847.9,400.6 847.9,400.4 848.1,402.2 848.4,401.9 848.4,403.9 848.8,404.3 849.0,406.1 848.8,406.5 848.7,408.3 849.0,408.2 848.6,409.0 849.2,409.4 848.9,409.9 849.2,410.8 849.3,412.5 849.3,413.5 849.8,416.3 849.5,416.7 850.0,418.5 849.8,418.7 850.0,420.8 849.9,418.6 849.5,418.6 848.9,416.4 848.7,415.7 849.1,416.8 849.1,419.4 849.2,420.1 849.8,421.9 849.9,422.6 849.5,424.4 849.7,424.7 850.1,425.9 849.7,425.8 849.8,426.6 849.6,426.6 850.0,427.6 849.9,428.4 850.3,430.7 850.5,431.3 851.3,434.3 851.0,433.4 851.0,434.1 850.9,433.5 851.2,433.9 851.1,433.4 850.9,434.4 851.2,434.2 850.9,435.4 851.1,436.4 851.4,437.9 851.7,438.2 851.7,440.0 852.5,440.1 852.8,441.9 853.0,442.0 853.0,443.3 853.1,442.6 853.6,443.5 853.6,442.4 853.3,441.8 853.4,440.6 853.4,440.9 854.0,439.9 853.8,440.5 854.0,439.6 854.4,439.7 854.4,438.5 854.5,439.4 855.0,436.7 855.0,436.9 855.0,434.6 854.4,433.9 854.5,432.7 854.9,432.8 854.9,431.4 855.0,431.2 855.3,430.4 855.3,430.3 855.3,429.3 855.7,428.9 855.6,428.1 855.7,428.0 856.2,426.8 856.1,426.5 856.3,425.1 856.1,424.8 856.5,422.8 856.2,423.2 856.7,422.4 857.3,423.0 857.2,422.5 857.5,423.5 857.1,420.2 857.0,418.7 857.0,416.5 857.0,415.4 857.8,414.9 857.5,415.4 857.7,414.8 858.1,416.3 858.2,416.3 858.0,416.7 857.9,416.1 858.0,416.1 858.1,417.0 858.6,419.4 858.7,420.0 859.1,422.3 858.9,421.3 859.2,422.1 858.9,421.2 858.7,422.4 859.0,422.8 859.6,424.7 859.5,425.0 859.5,426.6 859.9,427.1 860.2,428.3 860.0,429.2 860.7,430.6 860.5,431.2 860.5,433.0 861.1,432.8 861.2,434.8 861.1,434.4 861.7,436.3 861.7,436.2 861.6,437.5 861.8,436.0 861.4,437.0 861.7,436.0 861.8,436.5 861.5,437.3 861.8,438.9 862.0,439.5 862.2,439.2 862.6,437.7 862.8,437.3 862.6,435.1 862.7,434.5 863.3,433.9 863.7,435.0 864.1,434.1 864.3,434.2 864.5,433.0 864.8,432.7 865.3,431.1 865.6,431.3 865.5,429.2 866.0,428.7 866.8,428.1 866.9,428.5 866.6,428.8 866.8,430.4 866.8,431.2 867.4,433.4 867.5,433.6 867.3,435.5 867.8,435.5 867.6,437.7 867.8,436.8 867.9,438.8 868.1,437.9 867.9,439.2 868.0,439.9 868.6,441.7 868.5,442.0 868.8,443.3 868.5,442.6 868.7,442.8 868.4,443.0 868.8,442.0 868.6,440.7 868.7,440.0 868.9,438.5 868.7,438.3 868.7,436.5 868.9,436.3 868.6,434.4 869.0,433.8 869.1,433.2 869.1,434.1 869.3,433.5 869.8,434.5 869.9,433.3 870.2,433.4 869.9,431.4 870.1,431.3 870.3,429.8 870.5,430.4 870.5,428.7 870.3,428.6 870.4,427.3 871.0,427.0 870.8,425.9 871.1,425.6 871.4,424.8 871.0,425.0 871.5,424.3 871.8,425.2 872.0,423.0 872.0,421.7 871.8,419.0 871.4,417.5 872.2,417.1 872.4,419.2 872.7,419.5 873.4,421.2 873.4,418.8 872.9,418.1 873.1,416.0 873.1,415.4 873.5,414.2 873.3,413.8 873.4,412.4 873.8,412.1 873.9,411.2 874.0,412.6 874.0,413.3 874.6,415.4 874.5,414.5 874.6,415.4 874.8,413.7 874.5,414.3 874.8,414.1 874.7,415.5 875.2,415.8 875.4,417.3 875.6,417.8 876.0,419.5 876.0,420.4 876.0,421.4 875.9,421.1 875.9,421.8 876.3,421.3 876.3,421.8 876.4,421.9 876.6,423.7 876.6,424.1 877.1,426.0 877.3,426.4 877.6,429.0 877.6,429.4 878.1,431.3 878.0,430.9 877.7,432.0 878.3,432.1 878.0,432.9 878.5,433.1 878.6,434.0 878.4,434.0 878.3,434.8 878.6,435.4 878.7,436.9 878.8,437.2 878.5,439.1 878.8,438.7 878.5,438.9 878.3,437.8 878.4,438.7 878.4,439.5 878.9,443.0 879.2,444.3 879.7,447.1 879.3,445.4 879.4,445.9 878.9,444.7 878.7,445.0 879.1,445.7 878.8,447.0 879.3,447.6 879.3,449.1 879.4,449.4 879.1,450.6 879.4,451.3 879.2,452.0 879.4,452.4 879.3,454.1 879.8,455.0 879.7,457.0 880.2,457.5 880.2,458.9 880.3,459.1 880.2,461.3 880.4,461.3 879.8,460.1 880.0,460.4 880.0,461.4 880.0,461.6 880.4,462.7 880.1,463.0 880.5,463.9 880.2,464.3 880.4,465.4 880.5,465.9 880.4,466.7 880.7,467.3 880.3,466.7 880.8,465.9 880.8,465.3 880.8,464.5 881.1,464.0 880.9,462.9 880.9,462.6 881.2,461.6 881.5,461.4 881.5,460.5 881.2,460.3 881.5,459.0 881.5,458.6 881.4,457.3 881.7,456.9 881.7,455.9 881.7,455.5 881.8,454.7 881.8,454.3 882.1,453.5 881.9,452.9 882.3,452.1 882.2,451.5 882.4,450.7 882.7,450.1 882.7,449.3 882.8,448.8 882.7,447.8 882.6,447.3 882.5,446.2 882.8,445.7 882.9,444.7 883.1,444.2 883.3,443.2 882.9,443.0 883.0,442.0 883.5,441.7 883.1,440.6 883.7,440.3 883.4,439.0 883.3,438.6 883.8,437.5 883.4,437.0 883.7,436.0 883.7,435.6 884.0,434.6 883.6,434.1 883.7,433.3 883.8,432.8 883.8,432.0 884.0,431.4 884.3,430.6 884.1,430.0 884.4,428.9 884.4,428.5 884.2,427.5 884.7,427.2 884.5,426.2 884.5,425.9 884.8,424.6 884.9,424.3 884.9,423.3 885.0,423.0 884.9,422.0 885.3,421.6 885.1,420.6 885.1,420.2 885.4,419.2 885.5,418.7 885.8,417.9 885.3,417.2 885.9,416.4 885.4,415.8 885.9,414.7 885.6,414.3 886.2,413.4 886.3,413.1 886.0,412.2 886.4,412.0 886.1,410.8 886.0,410.5 886.4,409.3 886.5,409.0 886.8,407.9 886.8,407.4 886.4,406.5 886.5,405.8 886.6,405.0 886.7,404.4 886.9,403.4 887.0,403.0 886.8,401.9 887.4,401.5 887.0,400.5 887.3,400.1 887.2,399.1 887.5,398.8 887.3,397.9 887.6,397.3"/>
</g>
<g stroke="#0a0a0a" stroke-width="2" stroke-linecap="butt">
<line x1="492" y1="357.5" x2="528.2" y2="395.8"/>
<line x1="653" y1="284.5" x2="716" y2="323.5"/>
<line x1="921.3" y1="389.3" x2="887.6" y2="425"/>
</g>
<ellipse cx="634.2" cy="446.1" rx="10.1" ry="11.6" fill="none" stroke="#e8101a" stroke-width="3.8"/>
<ellipse cx="880.6" cy="469.3" rx="10.3" ry="11.4" fill="none" stroke="#e8101a" stroke-width="3.8"/>
<text font-size="23.5" font-weight="bold" stroke="#0a0a0a" stroke-width="0.45" fill="#0a0a0a"><tspan x="56.02" y="36.5" textLength="49.51" lengthAdjust="spacingAndGlyphs">Chart</tspan> <tspan x="112.25" y="36.5" textLength="16.65" lengthAdjust="spacingAndGlyphs">2:</tspan> <tspan x="137.29" y="36.5" textLength="33.45" lengthAdjust="spacingAndGlyphs">The</tspan> <tspan x="177.42" y="36.5" textLength="11.64" lengthAdjust="spacingAndGlyphs">3</tspan> <tspan x="189.77" y="28.3" textLength="12.56" lengthAdjust="spacingAndGlyphs" font-size="10.2">rd</tspan> <tspan x="205.98" y="36.5" textLength="52.47" lengthAdjust="spacingAndGlyphs">Great</tspan> <tspan x="267.19" y="36.5" textLength="40.08" lengthAdjust="spacingAndGlyphs">Bear</tspan> <tspan x="313.79" y="36.5" textLength="68.07" lengthAdjust="spacingAndGlyphs">Market</tspan> <tspan x="389.34" y="36.5" textLength="17.26" lengthAdjust="spacingAndGlyphs">in</tspan> <tspan x="410.43" y="36.5" textLength="59.26" lengthAdjust="spacingAndGlyphs">Bonds</tspan> <tspan x="477.57" y="36.5" textLength="39.09" lengthAdjust="spacingAndGlyphs">thus</tspan> <tspan x="523.17" y="36.5" textLength="24.72" lengthAdjust="spacingAndGlyphs">far</tspan> <tspan x="554.67" y="36.5" textLength="10.12" lengthAdjust="spacingAndGlyphs">a</tspan> <tspan x="570.36" y="36.5" textLength="60.05" lengthAdjust="spacingAndGlyphs">Doozy</tspan></text>
<text font-size="23.6" fill="#1c1c1c"><tspan x="55.85" y="64.8" textLength="24.25" lengthAdjust="spacingAndGlyphs">US</tspan> <tspan x="86.61" y="64.8" textLength="66.21" lengthAdjust="spacingAndGlyphs">10-year</tspan> <tspan x="160.49" y="64.8" textLength="71.14" lengthAdjust="spacingAndGlyphs">Treasury</tspan> <tspan x="240.15" y="64.8" textLength="40.21" lengthAdjust="spacingAndGlyphs">yield</tspan> <tspan x="285.31" y="64.8" textLength="49.43" lengthAdjust="spacingAndGlyphs">since</tspan> <tspan x="339.20" y="64.8" textLength="46.61" lengthAdjust="spacingAndGlyphs">1790</tspan></text>
<text font-size="23.4" fill="#1c1c1c"><tspan x="260.99" y="121.4" textLength="27.10" lengthAdjust="spacingAndGlyphs">US</tspan> <tspan x="295.39" y="121.4" textLength="67.34" lengthAdjust="spacingAndGlyphs">10-year</tspan> <tspan x="370.55" y="121.4" textLength="77.79" lengthAdjust="spacingAndGlyphs">Treasury</tspan> <tspan x="455.25" y="121.4" textLength="43.72" lengthAdjust="spacingAndGlyphs">yield</tspan> <tspan x="503.57" y="121.4" textLength="88.19" lengthAdjust="spacingAndGlyphs">(constant</tspan> <tspan x="597.41" y="121.4" textLength="87.18" lengthAdjust="spacingAndGlyphs">maturity)</tspan></text>
<text font-size="24.8" fill="#1c1c1c"><tspan x="60.94" y="165" textLength="43.74" lengthAdjust="spacingAndGlyphs">14%</tspan></text>
<text font-size="24.8" fill="#1c1c1c"><tspan x="60.94" y="211.2" textLength="43.74" lengthAdjust="spacingAndGlyphs">12%</tspan></text>
<text font-size="24.8" fill="#1c1c1c"><tspan x="60.94" y="257.3" textLength="43.74" lengthAdjust="spacingAndGlyphs">10%</tspan></text>
<text font-size="24.8" fill="#1c1c1c"><tspan x="72.64" y="303.6" textLength="32.05" lengthAdjust="spacingAndGlyphs">8%</tspan></text>
<text font-size="24.8" fill="#1c1c1c"><tspan x="72.47" y="349.6" textLength="32.23" lengthAdjust="spacingAndGlyphs">6%</tspan></text>
<text font-size="24.8" fill="#1c1c1c"><tspan x="73.10" y="396" textLength="31.58" lengthAdjust="spacingAndGlyphs">4%</tspan></text>
<text font-size="24.8" fill="#1c1c1c"><tspan x="72.48" y="441.6" textLength="32.22" lengthAdjust="spacingAndGlyphs">2%</tspan></text>
<text font-size="24.8" fill="#1c1c1c"><tspan x="72.74" y="488.4" textLength="31.95" lengthAdjust="spacingAndGlyphs">0%</tspan></text>
<text font-size="24.8" fill="#1c1c1c"><tspan x="102.92" y="517.0" textLength="49.15" lengthAdjust="spacingAndGlyphs">1790</tspan></text>
<text font-size="24.8" fill="#1c1c1c"><tspan x="172.53" y="517.0" textLength="49.41" lengthAdjust="spacingAndGlyphs">1812</tspan></text>
<text font-size="24.8" fill="#1c1c1c"><tspan x="242.15" y="517.0" textLength="49.26" lengthAdjust="spacingAndGlyphs">1833</tspan></text>
<text font-size="24.8" fill="#1c1c1c"><tspan x="311.78" y="517.0" textLength="48.92" lengthAdjust="spacingAndGlyphs">1854</tspan></text>
<text font-size="24.8" fill="#1c1c1c"><tspan x="381.39" y="517.0" textLength="49.21" lengthAdjust="spacingAndGlyphs">1875</tspan></text>
<text font-size="24.8" fill="#1c1c1c"><tspan x="451.01" y="517.0" textLength="49.41" lengthAdjust="spacingAndGlyphs">1897</tspan></text>
<text font-size="24.8" fill="#1c1c1c"><tspan x="520.63" y="517.0" textLength="49.25" lengthAdjust="spacingAndGlyphs">1918</tspan></text>
<text font-size="24.8" fill="#1c1c1c"><tspan x="590.25" y="517.0" textLength="49.34" lengthAdjust="spacingAndGlyphs">1939</tspan></text>
<text font-size="24.8" fill="#1c1c1c"><tspan x="659.88" y="517.0" textLength="49.15" lengthAdjust="spacingAndGlyphs">1960</tspan></text>
<text font-size="24.8" fill="#1c1c1c"><tspan x="729.49" y="517.0" textLength="49.41" lengthAdjust="spacingAndGlyphs">1982</tspan></text>
<text font-size="24.8" fill="#1c1c1c"><tspan x="799.70" y="517.0" textLength="48.66" lengthAdjust="spacingAndGlyphs">2003</tspan></text>
<text font-size="24.8" fill="#1c1c1c"><tspan x="869.33" y="517.0" textLength="48.33" lengthAdjust="spacingAndGlyphs">2024</tspan></text>
<text font-size="24.2" fill="#c8122c"><tspan x="418.96" y="293.6" textLength="28.70" lengthAdjust="spacingAndGlyphs">1st</tspan> <tspan x="454.48" y="293.6" textLength="55.19" lengthAdjust="spacingAndGlyphs">great</tspan> <tspan x="517.12" y="293.6" textLength="47.66" lengthAdjust="spacingAndGlyphs">bond</tspan></text>
<text font-size="24.2" fill="#c8122c"><tspan x="431.81" y="320.4" textLength="43.04" lengthAdjust="spacingAndGlyphs">bear</tspan> <tspan x="481.99" y="320.4" textLength="69.58" lengthAdjust="spacingAndGlyphs">market</tspan></text>
<text font-size="24.2" fill="#c8122c"><tspan x="428.16" y="349.0" textLength="126.68" lengthAdjust="spacingAndGlyphs">(1899-1920)</tspan></text>
<text font-size="24.2" fill="#c8122c"><tspan x="575.69" y="219.7" textLength="36.73" lengthAdjust="spacingAndGlyphs">2nd</tspan> <tspan x="618.48" y="219.7" textLength="55.19" lengthAdjust="spacingAndGlyphs">great</tspan> <tspan x="681.12" y="219.7" textLength="47.56" lengthAdjust="spacingAndGlyphs">bond</tspan></text>
<text font-size="24.2" fill="#c8122c"><tspan x="592.21" y="246.8" textLength="43.15" lengthAdjust="spacingAndGlyphs">bear</tspan> <tspan x="642.49" y="246.8" textLength="69.58" lengthAdjust="spacingAndGlyphs">market</tspan></text>
<text font-size="24.2" fill="#c8122c"><tspan x="588.85" y="275.5" textLength="126.99" lengthAdjust="spacingAndGlyphs">(1946-1981)</tspan></text>
<text font-size="24.2" fill="#c8122c"><tspan x="875.55" y="297.85" textLength="32.40" lengthAdjust="spacingAndGlyphs">3rd</tspan> <tspan x="913.52" y="297.85" textLength="53.05" lengthAdjust="spacingAndGlyphs">great</tspan></text>
<text font-size="24.2" fill="#c8122c"><tspan x="871.25" y="324.85" textLength="46.60" lengthAdjust="spacingAndGlyphs">bond</tspan> <tspan x="924.57" y="324.85" textLength="44.40" lengthAdjust="spacingAndGlyphs">bear</tspan></text>
<text font-size="24.2" fill="#c8122c"><tspan x="884.97" y="351.85" textLength="70.30" lengthAdjust="spacingAndGlyphs">market</tspan></text>
<text font-size="24.2" fill="#c8122c"><tspan x="861.44" y="380.0" textLength="118.81" lengthAdjust="spacingAndGlyphs">(2020-now)</tspan></text>
</svg></body></html>
